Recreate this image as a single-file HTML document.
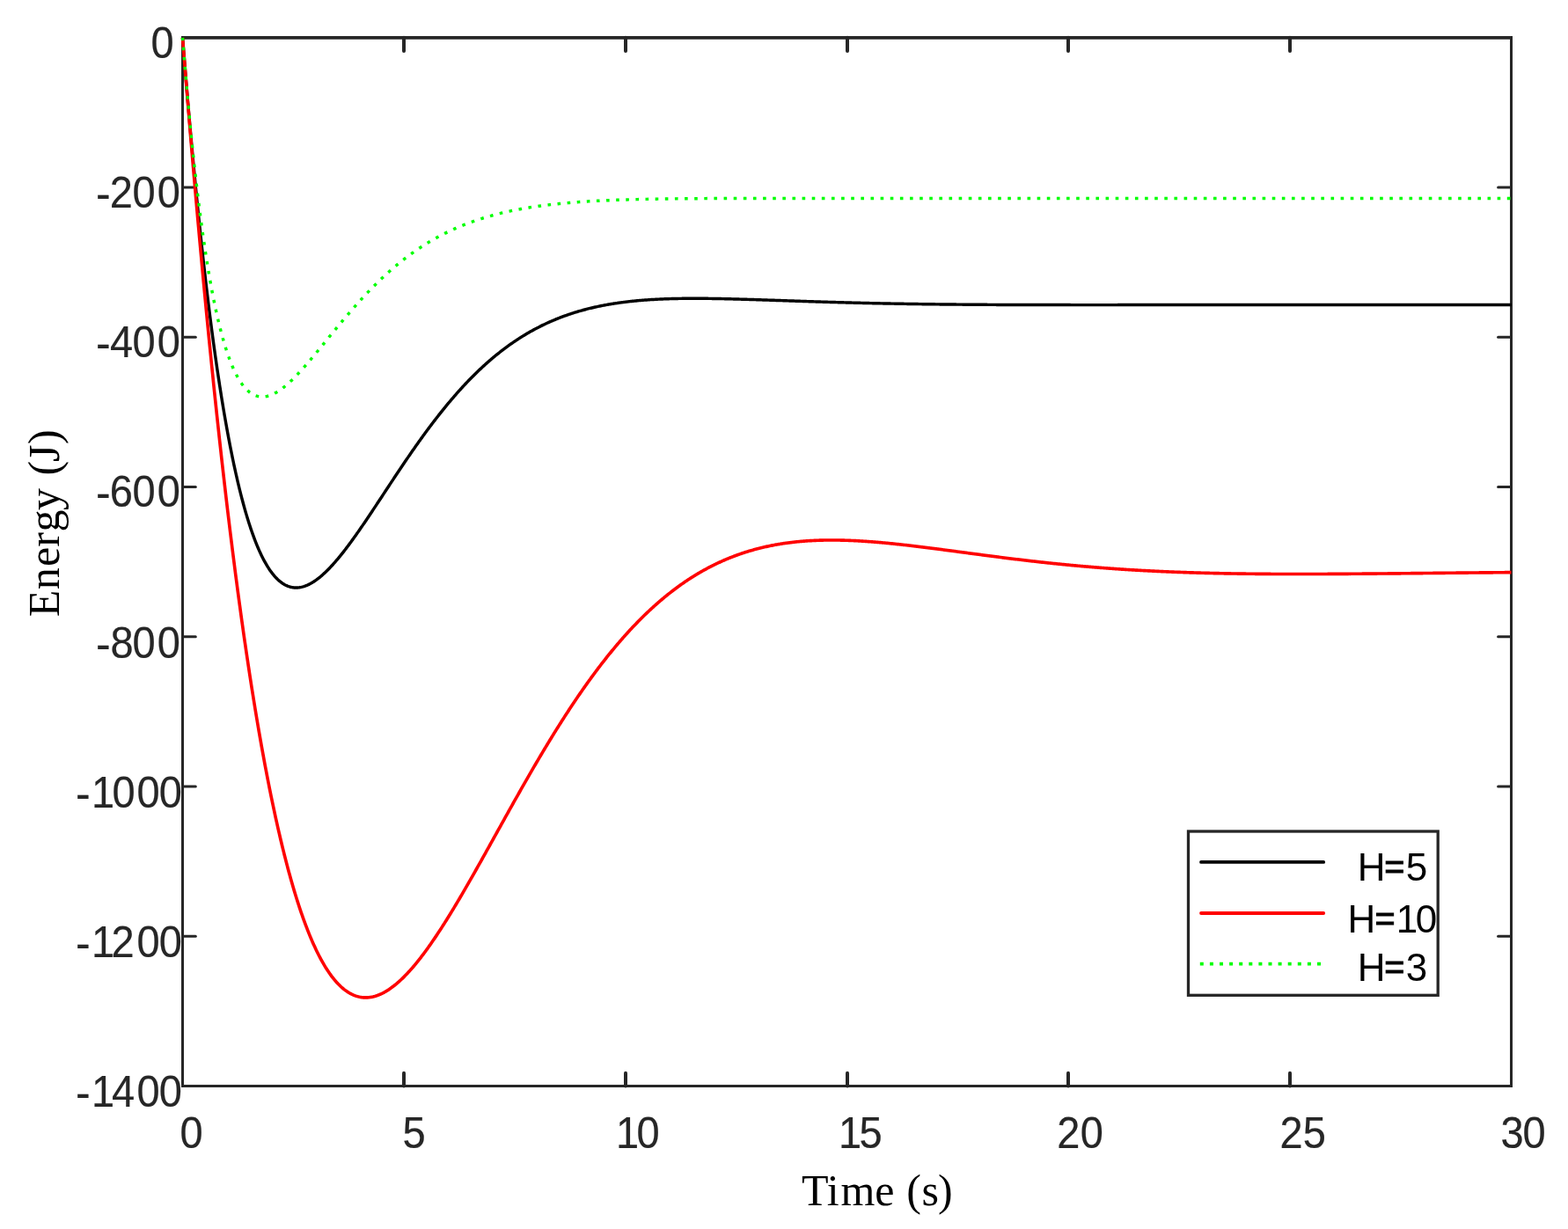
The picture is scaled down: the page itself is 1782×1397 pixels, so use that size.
<!DOCTYPE html>
<html lang="en"><head><meta charset="utf-8"><title>Energy vs Time</title>
<style>html,body{margin:0;padding:0;background:#fff;}body{width:1782px;height:1397px;overflow:hidden;}svg{display:block;}</style>
</head><body>
<svg width="1782" height="1397" viewBox="0 0 1782 1397">
<rect width="1782" height="1397" fill="#ffffff"/>
<g fill="#262626" stroke="none">
<rect x="206" y="41" width="1513" height="3.75"/>
<rect x="206" y="1233" width="1513" height="3"/>
<rect x="206" y="41" width="3" height="1195"/>
<rect x="1716" y="41" width="3" height="1195"/>
</g>
<g stroke="#262626" stroke-width="4" fill="none" stroke-linecap="round">
<line x1="459.00" y1="1234.50" x2="459.00" y2="1219.70"/>
<line x1="459.00" y1="42.85" x2="459.00" y2="58.10"/>
<line x1="711.00" y1="1234.50" x2="711.00" y2="1219.70"/>
<line x1="711.00" y1="42.85" x2="711.00" y2="58.10"/>
<line x1="963.00" y1="1234.50" x2="963.00" y2="1219.70"/>
<line x1="963.00" y1="42.85" x2="963.00" y2="58.10"/>
<line x1="1214.00" y1="1234.50" x2="1214.00" y2="1219.70"/>
<line x1="1214.00" y1="42.85" x2="1214.00" y2="58.10"/>
<line x1="1466.00" y1="1234.50" x2="1466.00" y2="1219.70"/>
<line x1="1466.00" y1="42.85" x2="1466.00" y2="58.10"/>
</g>
<g stroke="#262626" stroke-width="3" fill="none" stroke-linecap="round">
<line x1="207.50" y1="213.09" x2="222.30" y2="213.09"/>
<line x1="1717.50" y1="213.09" x2="1702.60" y2="213.09"/>
<line x1="207.50" y1="383.32" x2="222.30" y2="383.32"/>
<line x1="1717.50" y1="383.32" x2="1702.60" y2="383.32"/>
<line x1="207.50" y1="553.56" x2="222.30" y2="553.56"/>
<line x1="1717.50" y1="553.56" x2="1702.60" y2="553.56"/>
<line x1="207.50" y1="723.79" x2="222.30" y2="723.79"/>
<line x1="1717.50" y1="723.79" x2="1702.60" y2="723.79"/>
<line x1="207.50" y1="894.03" x2="222.30" y2="894.03"/>
<line x1="1717.50" y1="894.03" x2="1702.60" y2="894.03"/>
<line x1="207.50" y1="1064.26" x2="222.30" y2="1064.26"/>
<line x1="1717.50" y1="1064.26" x2="1702.60" y2="1064.26"/>
</g>
<g fill="none" stroke-linejoin="round">
<path d="M207.50 42.85 L208.51 55.53 L209.51 68.04 L210.52 80.37 L211.53 92.52 L212.53 104.50 L213.54 116.31 L214.55 127.95 L215.55 139.42 L216.56 150.72 L217.57 161.86 L218.57 172.83 L219.58 183.64 L220.59 194.28 L221.59 204.77 L222.60 215.09 L223.61 225.26 L224.61 235.28 L225.62 245.13 L226.63 254.84 L227.63 264.39 L228.64 273.80 L229.65 283.05 L230.65 292.16 L231.66 301.12 L232.67 309.93 L233.67 318.60 L234.68 327.13 L235.69 335.52 L236.69 343.77 L237.70 351.88 L238.71 359.86 L239.71 367.70 L240.72 375.40 L241.73 382.98 L242.73 390.42 L243.74 397.73 L244.75 404.91 L245.75 411.97 L246.76 418.90 L247.77 425.70 L248.77 432.38 L249.78 438.94 L250.79 445.38 L251.79 451.70 L252.80 457.90 L253.81 463.98 L254.81 469.95 L255.82 475.80 L256.83 481.54 L257.83 487.16 L258.84 492.68 L259.85 498.08 L260.85 503.38 L261.86 508.57 L262.87 513.65 L263.87 518.62 L264.88 523.50 L265.89 528.27 L266.89 532.94 L267.90 537.50 L268.91 541.97 L269.91 546.34 L270.92 550.62 L271.93 554.79 L272.93 558.87 L273.94 562.86 L274.95 566.76 L275.95 570.56 L276.96 574.28 L277.97 577.90 L278.97 581.44 L279.98 584.88 L280.99 588.25 L281.99 591.52 L283.00 594.72 L284.01 597.83 L285.01 600.85 L286.02 603.80 L287.03 606.66 L288.03 609.45 L289.04 612.16 L290.05 614.79 L291.05 617.35 L292.06 619.83 L293.07 622.24 L294.07 624.57 L295.08 626.83 L296.09 629.02 L297.09 631.14 L298.10 633.19 L299.11 635.17 L300.11 637.08 L301.12 638.93 L302.13 640.71 L303.13 642.42 L304.14 644.07 L305.15 645.66 L306.15 647.19 L307.16 648.65 L308.17 650.06 L309.17 651.40 L310.18 652.69 L311.19 653.91 L312.19 655.08 L313.20 656.20 L314.21 657.25 L315.21 658.26 L316.22 659.21 L317.23 660.10 L318.23 660.95 L319.24 661.74 L320.25 662.48 L321.25 663.17 L322.26 663.81 L323.27 664.40 L324.27 664.95 L325.28 665.44 L326.29 665.89 L327.29 666.30 L328.30 666.66 L329.31 666.98 L330.31 667.25 L331.32 667.48 L332.33 667.67 L333.33 667.81 L334.34 667.92 L335.35 667.98 L336.35 668.01 L337.36 668.00 L338.37 667.95 L339.37 667.86 L340.38 667.73 L341.39 667.57 L342.39 667.37 L343.40 667.14 L344.41 666.87 L345.41 666.57 L346.42 666.24 L347.43 665.87 L348.43 665.47 L349.44 665.05 L350.45 664.58 L351.45 664.09 L352.46 663.57 L353.47 663.02 L354.47 662.45 L355.48 661.84 L356.49 661.21 L357.49 660.55 L358.50 659.86 L359.51 659.15 L360.51 658.41 L361.52 657.65 L362.53 656.86 L363.53 656.05 L364.54 655.21 L365.55 654.36 L366.55 653.48 L367.56 652.57 L368.57 651.65 L369.57 650.71 L370.58 649.74 L371.59 648.76 L372.59 647.76 L373.60 646.73 L374.61 645.69 L375.61 644.63 L376.62 643.55 L377.63 642.46 L378.63 641.35 L379.64 640.22 L380.65 639.07 L381.65 637.91 L382.66 636.74 L383.67 635.54 L384.67 634.34 L385.68 633.12 L386.69 631.89 L387.69 630.64 L388.70 629.38 L389.71 628.11 L390.71 626.82 L391.72 625.53 L392.73 624.22 L393.73 622.90 L394.74 621.57 L395.75 620.23 L396.75 618.88 L397.76 617.52 L398.77 616.15 L399.77 614.77 L400.78 613.38 L401.79 611.98 L402.79 610.58 L403.80 609.16 L404.81 607.74 L405.81 606.32 L406.82 604.88 L407.83 603.44 L408.83 601.99 L409.84 600.54 L410.85 599.07 L411.85 597.61 L412.86 596.14 L413.87 594.66 L414.87 593.18 L415.88 591.69 L416.89 590.20 L417.89 588.71 L418.90 587.21 L419.91 585.71 L420.91 584.20 L421.92 582.69 L422.93 581.18 L423.93 579.67 L424.94 578.15 L425.95 576.63 L426.95 575.11 L427.96 573.59 L428.97 572.06 L429.97 570.54 L430.98 569.01 L431.99 567.48 L432.99 565.96 L434.00 564.43 L435.01 562.90 L436.01 561.37 L437.02 559.84 L438.03 558.31 L439.03 556.78 L440.04 555.25 L441.05 553.72 L442.05 552.20 L443.06 550.67 L444.07 549.15 L445.07 547.62 L446.08 546.10 L447.09 544.58 L448.09 543.06 L449.10 541.55 L450.11 540.03 L451.11 538.52 L452.12 537.01 L453.13 535.51 L454.13 534.00 L455.14 532.50 L456.15 531.00 L457.15 529.51 L458.16 528.02 L459.17 526.53 L460.17 525.04 L461.18 523.56 L462.19 522.08 L463.19 520.61 L464.20 519.14 L465.21 517.67 L466.21 516.21 L467.22 514.75 L468.23 513.30 L469.23 511.85 L470.24 510.41 L471.25 508.97 L472.25 507.53 L473.26 506.10 L474.27 504.68 L475.27 503.26 L476.28 501.84 L477.29 500.43 L478.29 499.03 L479.30 497.63 L480.31 496.24 L481.31 494.85 L482.32 493.46 L483.33 492.09 L484.33 490.72 L485.34 489.35 L486.35 487.99 L487.35 486.64 L488.36 485.29 L489.37 483.95 L490.37 482.61 L491.38 481.28 L492.39 479.96 L493.39 478.64 L494.40 477.33 L495.41 476.03 L496.41 474.73 L497.42 473.44 L498.43 472.15 L499.43 470.87 L500.44 469.60 L501.45 468.34 L502.45 467.08 L503.46 465.83 L504.47 464.58 L505.47 463.34 L506.48 462.11 L507.49 460.89 L508.49 459.67 L509.50 458.46 L510.51 457.25 L511.51 456.06 L512.52 454.87 L513.53 453.68 L514.53 452.51 L515.54 451.34 L516.55 450.18 L517.55 449.02 L518.56 447.87 L519.57 446.73 L520.57 445.60 L521.58 444.47 L522.59 443.36 L523.59 442.24 L524.60 441.14 L525.61 440.04 L526.61 438.95 L527.62 437.87 L528.63 436.79 L529.63 435.72 L530.64 434.66 L531.65 433.61 L532.65 432.56 L533.66 431.52 L534.67 430.49 L535.67 429.47 L536.68 428.45 L537.69 427.44 L538.69 426.44 L539.70 425.44 L540.71 424.45 L541.71 423.47 L542.72 422.50 L543.73 421.53 L544.73 420.57 L545.74 419.62 L546.75 418.67 L547.75 417.74 L548.76 416.81 L549.77 415.88 L550.77 414.97 L551.78 414.06 L552.79 413.16 L553.79 412.26 L554.80 411.37 L555.81 410.49 L556.81 409.62 L557.82 408.76 L558.83 407.90 L559.83 407.04 L560.84 406.20 L561.85 405.36 L562.85 404.53 L563.86 403.71 L564.87 402.89 L565.87 402.08 L566.88 401.28 L567.89 400.48 L568.89 399.69 L569.90 398.91 L570.91 398.13 L571.91 397.37 L572.92 396.60 L573.93 395.85 L574.93 395.10 L575.94 394.36 L576.95 393.63 L577.95 392.90 L578.96 392.18 L579.97 391.46 L580.97 390.75 L581.98 390.05 L582.99 389.36 L583.99 388.67 L585.00 387.99 L586.01 387.31 L587.01 386.64 L588.02 385.98 L589.03 385.32 L590.03 384.67 L591.04 384.03 L592.05 383.39 L593.05 382.76 L594.06 382.14 L595.07 381.52 L596.07 380.91 L597.08 380.30 L598.09 379.70 L599.09 379.11 L600.10 378.52 L601.11 377.94 L602.11 377.36 L603.12 376.79 L604.13 376.23 L605.13 375.67 L606.14 375.12 L607.15 374.57 L608.15 374.03 L609.16 373.50 L610.17 372.97 L611.17 372.44 L612.18 371.93 L613.19 371.41 L614.19 370.91 L615.20 370.41 L616.21 369.91 L617.21 369.42 L618.22 368.94 L619.23 368.46 L620.23 367.98 L621.24 367.52 L622.25 367.05 L623.25 366.60 L624.26 366.14 L625.27 365.70 L626.27 365.26 L627.28 364.82 L628.29 364.39 L629.29 363.96 L630.30 363.54 L631.31 363.12 L632.31 362.71 L633.32 362.31 L634.33 361.90 L635.33 361.51 L636.34 361.12 L637.35 360.73 L638.35 360.35 L639.36 359.97 L640.37 359.60 L641.37 359.23 L642.38 358.87 L643.39 358.51 L644.39 358.15 L645.40 357.80 L646.41 357.46 L647.41 357.12 L648.42 356.78 L649.43 356.45 L650.43 356.12 L651.44 355.80 L652.45 355.48 L653.45 355.17 L654.46 354.86 L655.47 354.55 L656.47 354.25 L657.48 353.95 L658.49 353.66 L659.49 353.37 L660.50 353.08 L661.51 352.80 L662.51 352.52 L663.52 352.25 L664.53 351.98 L665.53 351.71 L666.54 351.45 L667.55 351.19 L668.55 350.94 L669.56 350.69 L670.57 350.44 L671.57 350.20 L672.58 349.96 L673.59 349.72 L674.59 349.49 L675.60 349.26 L676.61 349.03 L677.61 348.81 L678.62 348.59 L679.63 348.38 L680.63 348.16 L681.64 347.96 L682.65 347.75 L683.65 347.55 L684.66 347.35 L685.67 347.15 L686.67 346.96 L687.68 346.77 L688.69 346.59 L689.69 346.40 L690.70 346.22 L691.71 346.05 L692.71 345.87 L693.72 345.70 L694.73 345.54 L695.73 345.37 L696.74 345.21 L697.75 345.05 L698.75 344.89 L699.76 344.74 L700.77 344.59 L701.77 344.44 L702.78 344.30 L703.79 344.15 L704.79 344.01 L705.80 343.88 L706.81 343.74 L707.81 343.61 L708.82 343.48 L709.83 343.35 L710.83 343.23 L711.84 343.11 L712.85 342.99 L713.85 342.87 L714.86 342.75 L715.87 342.64 L716.87 342.53 L717.88 342.42 L718.89 342.32 L719.89 342.22 L720.90 342.11 L721.91 342.02 L722.91 341.92 L723.92 341.82 L724.93 341.73 L725.93 341.64 L726.94 341.55 L727.95 341.47 L728.95 341.38 L729.96 341.30 L730.97 341.22 L731.97 341.14 L732.98 341.07 L733.99 340.99 L734.99 340.92 L736.00 340.85 L737.01 340.78 L738.01 340.72 L739.02 340.65 L740.03 340.59 L741.03 340.53 L742.04 340.47 L743.05 340.41 L744.05 340.35 L745.06 340.30 L746.07 340.24 L747.07 340.19 L748.08 340.14 L749.09 340.10 L750.09 340.05 L751.10 340.00 L752.11 339.96 L753.11 339.92 L754.12 339.88 L755.13 339.84 L756.13 339.80 L757.14 339.76 L758.15 339.73 L759.15 339.70 L760.16 339.66 L761.17 339.63 L762.17 339.60 L763.18 339.58 L764.19 339.55 L765.19 339.52 L766.20 339.50 L767.21 339.48 L768.21 339.45 L769.22 339.43 L770.23 339.41 L771.23 339.40 L772.24 339.38 L773.25 339.36 L774.25 339.35 L775.26 339.34 L776.27 339.32 L777.27 339.31 L778.28 339.30 L779.29 339.29 L780.29 339.28 L781.30 339.27 L782.31 339.27 L783.31 339.26 L784.32 339.26 L785.33 339.25 L786.33 339.25 L787.34 339.25 L788.35 339.25 L789.35 339.25 L790.36 339.25 L791.37 339.25 L792.37 339.25 L793.38 339.26 L794.39 339.26 L795.39 339.27 L796.40 339.27 L797.41 339.28 L798.41 339.28 L799.42 339.29 L800.43 339.30 L801.43 339.31 L802.44 339.32 L803.45 339.33 L804.45 339.34 L805.46 339.35 L806.47 339.37 L807.47 339.38 L808.48 339.39 L809.49 339.41 L810.49 339.42 L811.50 339.44 L812.51 339.46 L813.51 339.47 L814.52 339.49 L815.53 339.51 L816.53 339.53 L817.54 339.54 L818.55 339.56 L819.55 339.58 L820.56 339.60 L821.57 339.63 L822.57 339.65 L823.58 339.67 L824.59 339.69 L825.59 339.71 L826.60 339.74 L827.61 339.76 L828.61 339.78 L829.62 339.81 L830.63 339.83 L831.63 339.86 L832.64 339.88 L833.65 339.91 L834.65 339.94 L835.66 339.96 L836.67 339.99 L837.67 340.02 L838.68 340.04 L839.69 340.07 L840.69 340.10 L841.70 340.13 L842.71 340.16 L843.71 340.18 L844.72 340.21 L845.73 340.24 L846.73 340.27 L847.74 340.30 L848.75 340.33 L849.75 340.36 L850.76 340.39 L851.77 340.42 L852.77 340.46 L853.78 340.49 L854.79 340.52 L855.79 340.55 L856.80 340.58 L857.81 340.61 L858.81 340.65 L859.82 340.68 L860.83 340.71 L861.83 340.74 L862.84 340.77 L863.85 340.81 L864.85 340.84 L865.86 340.87 L866.87 340.91 L867.87 340.94 L868.88 340.97 L869.89 341.01 L870.89 341.04 L871.90 341.07 L872.91 341.11 L873.91 341.14 L874.92 341.17 L875.93 341.21 L876.93 341.24 L877.94 341.28 L878.95 341.31 L879.95 341.34 L880.96 341.38 L881.97 341.41 L882.97 341.45 L883.98 341.48 L884.99 341.51 L885.99 341.55 L887.00 341.58 L888.01 341.62 L889.01 341.65 L890.02 341.69 L891.03 341.72 L892.03 341.75 L893.04 341.79 L894.05 341.82 L895.05 341.86 L896.06 341.89 L897.07 341.92 L898.07 341.96 L899.08 341.99 L900.09 342.03 L901.09 342.06 L902.10 342.09 L903.11 342.13 L904.11 342.16 L905.12 342.20 L906.13 342.23 L907.13 342.26 L908.14 342.30 L909.15 342.33 L910.15 342.36 L911.16 342.40 L912.17 342.43 L913.17 342.46 L914.18 342.50 L915.19 342.53 L916.19 342.56 L917.20 342.60 L918.21 342.63 L919.21 342.66 L920.22 342.69 L921.23 342.73 L922.23 342.76 L923.24 342.79 L924.25 342.82 L925.25 342.85 L926.26 342.89 L927.27 342.92 L928.27 342.95 L929.28 342.98 L930.29 343.01 L931.29 343.04 L932.30 343.08 L933.31 343.11 L934.31 343.14 L935.32 343.17 L936.33 343.20 L937.33 343.23 L938.34 343.26 L939.35 343.29 L940.35 343.32 L941.36 343.35 L942.37 343.38 L943.37 343.41 L944.38 343.44 L945.39 343.47 L946.39 343.50 L947.40 343.53 L948.41 343.56 L949.41 343.59 L950.42 343.62 L951.43 343.64 L952.43 343.67 L953.44 343.70 L954.45 343.73 L955.45 343.76 L956.46 343.79 L957.47 343.81 L958.47 343.84 L959.48 343.87 L960.49 343.90 L961.49 343.92 L962.50 343.95 L963.51 343.98 L964.51 344.00 L965.52 344.03 L966.53 344.06 L967.53 344.08 L968.54 344.11 L969.55 344.13 L970.55 344.16 L971.56 344.19 L972.57 344.21 L973.57 344.24 L974.58 344.26 L975.59 344.29 L976.59 344.31 L977.60 344.34 L978.61 344.36 L979.61 344.38 L980.62 344.41 L981.63 344.43 L982.63 344.46 L983.64 344.48 L984.65 344.50 L985.65 344.53 L986.66 344.55 L987.67 344.57 L988.67 344.60 L989.68 344.62 L990.69 344.64 L991.69 344.66 L992.70 344.69 L993.71 344.71 L994.71 344.73 L995.72 344.75 L996.73 344.77 L997.73 344.79 L998.74 344.82 L999.75 344.84 L1000.75 344.86 L1001.76 344.88 L1002.77 344.90 L1003.77 344.92 L1004.78 344.94 L1005.79 344.96 L1006.79 344.98 L1007.80 345.00 L1008.81 345.02 L1009.81 345.04 L1010.82 345.06 L1011.83 345.08 L1012.83 345.10 L1013.84 345.11 L1014.85 345.13 L1015.85 345.15 L1016.86 345.17 L1017.87 345.19 L1018.87 345.21 L1019.88 345.22 L1020.89 345.24 L1021.89 345.26 L1022.90 345.28 L1023.91 345.29 L1024.91 345.31 L1025.92 345.33 L1026.93 345.34 L1027.93 345.36 L1028.94 345.38 L1029.95 345.39 L1030.95 345.41 L1031.96 345.43 L1032.97 345.44 L1033.97 345.46 L1034.98 345.47 L1035.99 345.49 L1036.99 345.50 L1038.00 345.52 L1039.01 345.53 L1040.01 345.55 L1041.02 345.56 L1042.03 345.58 L1043.03 345.59 L1044.04 345.61 L1045.05 345.62 L1046.05 345.64 L1047.06 345.65 L1048.07 345.66 L1049.07 345.68 L1050.08 345.69 L1051.09 345.70 L1052.09 345.72 L1053.10 345.73 L1054.11 345.74 L1055.11 345.76 L1056.12 345.77 L1057.13 345.78 L1058.13 345.79 L1059.14 345.81 L1060.15 345.82 L1061.15 345.83 L1062.16 345.84 L1063.17 345.85 L1064.17 345.87 L1065.18 345.88 L1066.19 345.89 L1067.19 345.90 L1068.20 345.91 L1069.21 345.92 L1070.21 345.93 L1071.22 345.94 L1072.23 345.95 L1073.23 345.96 L1074.24 345.97 L1075.25 345.99 L1076.25 346.00 L1077.26 346.01 L1078.27 346.02 L1079.27 346.03 L1080.28 346.03 L1081.29 346.04 L1082.29 346.05 L1083.30 346.06 L1084.31 346.07 L1085.31 346.08 L1086.32 346.09 L1087.33 346.10 L1088.33 346.11 L1089.34 346.12 L1090.35 346.13 L1091.35 346.13 L1092.36 346.14 L1093.37 346.15 L1094.37 346.16 L1095.38 346.17 L1096.39 346.18 L1097.39 346.18 L1098.40 346.19 L1099.41 346.20 L1100.41 346.21 L1101.42 346.21 L1102.43 346.22 L1103.43 346.23 L1104.44 346.24 L1105.45 346.24 L1106.45 346.25 L1107.46 346.26 L1108.47 346.26 L1109.47 346.27 L1110.48 346.28 L1111.49 346.28 L1112.49 346.29 L1113.50 346.30 L1114.51 346.30 L1115.51 346.31 L1116.52 346.31 L1117.53 346.32 L1118.53 346.33 L1119.54 346.33 L1120.55 346.34 L1121.55 346.34 L1122.56 346.35 L1123.57 346.35 L1124.57 346.36 L1125.58 346.36 L1126.59 346.37 L1127.59 346.38 L1128.60 346.38 L1129.61 346.39 L1130.61 346.39 L1131.62 346.40 L1132.63 346.40 L1133.63 346.40 L1134.64 346.41 L1135.65 346.41 L1136.65 346.42 L1137.66 346.42 L1138.67 346.43 L1139.67 346.43 L1140.68 346.44 L1141.69 346.44 L1142.69 346.44 L1143.70 346.45 L1144.71 346.45 L1145.71 346.46 L1146.72 346.46 L1147.73 346.46 L1148.73 346.47 L1149.74 346.47 L1150.75 346.47 L1151.75 346.48 L1152.76 346.48 L1153.77 346.48 L1154.77 346.49 L1155.78 346.49 L1156.79 346.49 L1157.79 346.50 L1158.80 346.50 L1159.81 346.50 L1160.81 346.51 L1161.82 346.51 L1162.83 346.51 L1163.83 346.51 L1164.84 346.52 L1165.85 346.52 L1166.85 346.52 L1167.86 346.52 L1168.87 346.53 L1169.87 346.53 L1170.88 346.53 L1171.89 346.53 L1172.89 346.54 L1173.90 346.54 L1174.91 346.54 L1175.91 346.54 L1176.92 346.55 L1177.93 346.55 L1178.93 346.55 L1179.94 346.55 L1180.95 346.55 L1181.95 346.55 L1182.96 346.56 L1183.97 346.56 L1184.97 346.56 L1185.98 346.56 L1186.99 346.56 L1187.99 346.57 L1189.00 346.57 L1190.01 346.57 L1191.01 346.57 L1192.02 346.57 L1193.03 346.57 L1194.03 346.57 L1195.04 346.58 L1196.05 346.58 L1197.05 346.58 L1198.06 346.58 L1199.07 346.58 L1200.07 346.58 L1201.08 346.58 L1202.09 346.58 L1203.09 346.58 L1204.10 346.59 L1205.11 346.59 L1206.11 346.59 L1207.12 346.59 L1208.13 346.59 L1209.13 346.59 L1210.14 346.59 L1211.15 346.59 L1212.15 346.59 L1213.16 346.59 L1214.17 346.59 L1215.17 346.59 L1216.18 346.59 L1217.19 346.60 L1218.19 346.60 L1219.20 346.60 L1220.21 346.60 L1221.21 346.60 L1222.22 346.60 L1223.23 346.60 L1224.23 346.60 L1225.24 346.60 L1226.25 346.60 L1227.25 346.60 L1228.26 346.60 L1229.27 346.60 L1230.27 346.60 L1231.28 346.60 L1232.29 346.60 L1233.29 346.60 L1234.30 346.60 L1235.31 346.60 L1236.31 346.60 L1237.32 346.60 L1238.33 346.60 L1239.33 346.60 L1240.34 346.60 L1241.35 346.60 L1242.35 346.60 L1243.36 346.60 L1244.37 346.60 L1245.37 346.60 L1246.38 346.60 L1247.39 346.60 L1248.39 346.60 L1249.40 346.60 L1250.41 346.60 L1251.41 346.60 L1252.42 346.60 L1253.43 346.60 L1254.43 346.60 L1255.44 346.60 L1256.45 346.60 L1257.45 346.60 L1258.46 346.60 L1259.47 346.60 L1260.47 346.60 L1261.48 346.60 L1262.49 346.60 L1263.49 346.60 L1264.50 346.60 L1265.51 346.60 L1266.51 346.60 L1267.52 346.60 L1268.53 346.60 L1269.53 346.60 L1270.54 346.59 L1271.55 346.59 L1272.55 346.59 L1273.56 346.59 L1274.57 346.59 L1275.57 346.59 L1276.58 346.59 L1277.59 346.59 L1278.59 346.59 L1279.60 346.59 L1280.61 346.59 L1281.61 346.59 L1282.62 346.59 L1283.63 346.59 L1284.63 346.59 L1285.64 346.59 L1286.65 346.59 L1287.65 346.59 L1288.66 346.59 L1289.67 346.58 L1290.67 346.58 L1291.68 346.58 L1292.69 346.58 L1293.69 346.58 L1294.70 346.58 L1295.71 346.58 L1296.71 346.58 L1297.72 346.58 L1298.73 346.58 L1299.73 346.58 L1300.74 346.58 L1301.75 346.58 L1302.75 346.58 L1303.76 346.58 L1304.77 346.57 L1305.77 346.57 L1306.78 346.57 L1307.79 346.57 L1308.79 346.57 L1309.80 346.57 L1310.81 346.57 L1311.81 346.57 L1312.82 346.57 L1313.83 346.57 L1314.83 346.57 L1315.84 346.57 L1316.85 346.57 L1317.85 346.57 L1318.86 346.56 L1319.87 346.56 L1320.87 346.56 L1321.88 346.56 L1322.89 346.56 L1323.89 346.56 L1324.90 346.56 L1325.91 346.56 L1326.91 346.56 L1327.92 346.56 L1328.93 346.56 L1329.93 346.56 L1330.94 346.56 L1331.95 346.56 L1332.95 346.55 L1333.96 346.55 L1334.97 346.55 L1335.97 346.55 L1336.98 346.55 L1337.99 346.55 L1338.99 346.55 L1340.00 346.55 L1341.01 346.55 L1342.01 346.55 L1343.02 346.55 L1344.03 346.55 L1345.03 346.55 L1346.04 346.54 L1347.05 346.54 L1348.05 346.54 L1349.06 346.54 L1350.07 346.54 L1351.07 346.54 L1352.08 346.54 L1353.09 346.54 L1354.09 346.54 L1355.10 346.54 L1356.11 346.54 L1357.11 346.54 L1358.12 346.54 L1359.13 346.53 L1360.13 346.53 L1361.14 346.53 L1362.15 346.53 L1363.15 346.53 L1364.16 346.53 L1365.17 346.53 L1366.17 346.53 L1367.18 346.53 L1368.19 346.53 L1369.19 346.53 L1370.20 346.53 L1371.21 346.53 L1372.21 346.52 L1373.22 346.52 L1374.23 346.52 L1375.23 346.52 L1376.24 346.52 L1377.25 346.52 L1378.25 346.52 L1379.26 346.52 L1380.27 346.52 L1381.27 346.52 L1382.28 346.52 L1383.29 346.52 L1384.29 346.52 L1385.30 346.52 L1386.31 346.51 L1387.31 346.51 L1388.32 346.51 L1389.33 346.51 L1390.33 346.51 L1391.34 346.51 L1392.35 346.51 L1393.35 346.51 L1394.36 346.51 L1395.37 346.51 L1396.37 346.51 L1397.38 346.51 L1398.39 346.51 L1399.39 346.51 L1400.40 346.51 L1401.41 346.50 L1402.41 346.50 L1403.42 346.50 L1404.43 346.50 L1405.43 346.50 L1406.44 346.50 L1407.45 346.50 L1408.45 346.50 L1409.46 346.50 L1410.47 346.50 L1411.47 346.50 L1412.48 346.50 L1413.49 346.50 L1414.49 346.50 L1415.50 346.50 L1416.51 346.50 L1417.51 346.49 L1418.52 346.49 L1419.53 346.49 L1420.53 346.49 L1421.54 346.49 L1422.55 346.49 L1423.55 346.49 L1424.56 346.49 L1425.57 346.49 L1426.57 346.49 L1427.58 346.49 L1428.59 346.49 L1429.59 346.49 L1430.60 346.49 L1431.61 346.49 L1432.61 346.49 L1433.62 346.49 L1434.63 346.49 L1435.63 346.48 L1436.64 346.48 L1437.65 346.48 L1438.65 346.48 L1439.66 346.48 L1440.67 346.48 L1441.67 346.48 L1442.68 346.48 L1443.69 346.48 L1444.69 346.48 L1445.70 346.48 L1446.71 346.48 L1447.71 346.48 L1448.72 346.48 L1449.73 346.48 L1450.73 346.48 L1451.74 346.48 L1452.75 346.48 L1453.75 346.48 L1454.76 346.48 L1455.77 346.48 L1456.77 346.47 L1457.78 346.47 L1458.79 346.47 L1459.79 346.47 L1460.80 346.47 L1461.81 346.47 L1462.81 346.47 L1463.82 346.47 L1464.83 346.47 L1465.83 346.47 L1466.84 346.47 L1467.85 346.47 L1468.85 346.47 L1469.86 346.47 L1470.87 346.47 L1471.87 346.47 L1472.88 346.47 L1473.89 346.47 L1474.89 346.47 L1475.90 346.47 L1476.91 346.47 L1477.91 346.47 L1478.92 346.47 L1479.93 346.47 L1480.93 346.46 L1481.94 346.46 L1482.95 346.46 L1483.95 346.46 L1484.96 346.46 L1485.97 346.46 L1486.97 346.46 L1487.98 346.46 L1488.99 346.46 L1489.99 346.46 L1491.00 346.46 L1492.01 346.46 L1493.01 346.46 L1494.02 346.46 L1495.03 346.46 L1496.03 346.46 L1497.04 346.46 L1498.05 346.46 L1499.05 346.46 L1500.06 346.46 L1501.07 346.46 L1502.07 346.46 L1503.08 346.46 L1504.09 346.46 L1505.09 346.46 L1506.10 346.46 L1507.11 346.46 L1508.11 346.46 L1509.12 346.46 L1510.13 346.46 L1511.13 346.46 L1512.14 346.45 L1513.15 346.45 L1514.15 346.45 L1515.16 346.45 L1516.17 346.45 L1517.17 346.45 L1518.18 346.45 L1519.19 346.45 L1520.19 346.45 L1521.20 346.45 L1522.21 346.45 L1523.21 346.45 L1524.22 346.45 L1525.23 346.45 L1526.23 346.45 L1527.24 346.45 L1528.25 346.45 L1529.25 346.45 L1530.26 346.45 L1531.27 346.45 L1532.27 346.45 L1533.28 346.45 L1534.29 346.45 L1535.29 346.45 L1536.30 346.45 L1537.31 346.45 L1538.31 346.45 L1539.32 346.45 L1540.33 346.45 L1541.33 346.45 L1542.34 346.45 L1543.35 346.45 L1544.35 346.45 L1545.36 346.45 L1546.37 346.45 L1547.37 346.45 L1548.38 346.45 L1549.39 346.45 L1550.39 346.45 L1551.40 346.45 L1552.41 346.45 L1553.41 346.45 L1554.42 346.45 L1555.43 346.45 L1556.43 346.45 L1557.44 346.45 L1558.45 346.45 L1559.45 346.44 L1560.46 346.44 L1561.47 346.44 L1562.47 346.44 L1563.48 346.44 L1564.49 346.44 L1565.49 346.44 L1566.50 346.44 L1567.51 346.44 L1568.51 346.44 L1569.52 346.44 L1570.53 346.44 L1571.53 346.44 L1572.54 346.44 L1573.55 346.44 L1574.55 346.44 L1575.56 346.44 L1576.57 346.44 L1577.57 346.44 L1578.58 346.44 L1579.59 346.44 L1580.59 346.44 L1581.60 346.44 L1582.61 346.44 L1583.61 346.44 L1584.62 346.44 L1585.63 346.44 L1586.63 346.44 L1587.64 346.44 L1588.65 346.44 L1589.65 346.44 L1590.66 346.44 L1591.67 346.44 L1592.67 346.44 L1593.68 346.44 L1594.69 346.44 L1595.69 346.44 L1596.70 346.44 L1597.71 346.44 L1598.71 346.44 L1599.72 346.44 L1600.73 346.44 L1601.73 346.44 L1602.74 346.44 L1603.75 346.44 L1604.75 346.44 L1605.76 346.44 L1606.77 346.44 L1607.77 346.44 L1608.78 346.44 L1609.79 346.44 L1610.79 346.44 L1611.80 346.44 L1612.81 346.44 L1613.81 346.44 L1614.82 346.44 L1615.83 346.44 L1616.83 346.44 L1617.84 346.44 L1618.85 346.44 L1619.85 346.44 L1620.86 346.44 L1621.87 346.44 L1622.87 346.44 L1623.88 346.44 L1624.89 346.44 L1625.89 346.44 L1626.90 346.44 L1627.91 346.44 L1628.91 346.44 L1629.92 346.44 L1630.93 346.44 L1631.93 346.44 L1632.94 346.44 L1633.95 346.44 L1634.95 346.44 L1635.96 346.44 L1636.97 346.44 L1637.97 346.44 L1638.98 346.44 L1639.99 346.44 L1640.99 346.44 L1642.00 346.44 L1643.01 346.44 L1644.01 346.44 L1645.02 346.44 L1646.03 346.44 L1647.03 346.44 L1648.04 346.44 L1649.05 346.44 L1650.05 346.44 L1651.06 346.44 L1652.07 346.44 L1653.07 346.44 L1654.08 346.44 L1655.09 346.44 L1656.09 346.44 L1657.10 346.44 L1658.11 346.44 L1659.11 346.44 L1660.12 346.44 L1661.13 346.44 L1662.13 346.44 L1663.14 346.44 L1664.15 346.44 L1665.15 346.44 L1666.16 346.44 L1667.17 346.44 L1668.17 346.44 L1669.18 346.44 L1670.19 346.44 L1671.19 346.44 L1672.20 346.44 L1673.21 346.44 L1674.21 346.44 L1675.22 346.44 L1676.23 346.44 L1677.23 346.44 L1678.24 346.44 L1679.25 346.44 L1680.25 346.44 L1681.26 346.44 L1682.27 346.44 L1683.27 346.44 L1684.28 346.44 L1685.29 346.44 L1686.29 346.44 L1687.30 346.44 L1688.31 346.44 L1689.31 346.44 L1690.32 346.44 L1691.33 346.44 L1692.33 346.44 L1693.34 346.44 L1694.35 346.44 L1695.35 346.44 L1696.36 346.44 L1697.37 346.44 L1698.37 346.44 L1699.38 346.44 L1700.39 346.44 L1701.39 346.44 L1702.40 346.44 L1703.41 346.44 L1704.41 346.44 L1705.42 346.44 L1706.43 346.44 L1707.43 346.44 L1708.44 346.44 L1709.45 346.44 L1710.45 346.44 L1711.46 346.44 L1712.47 346.44 L1713.47 346.44 L1714.48 346.44 L1715.49 346.44 L1716.49 346.44 L1717.50 346.44" stroke="#000000" stroke-width="3.45"/>
<path d="M207.50 42.85 L208.51 55.59 L209.51 68.23 L210.52 80.79 L211.53 93.25 L212.53 105.63 L213.54 117.92 L214.55 130.12 L215.55 142.22 L216.56 154.25 L217.57 166.18 L218.57 178.02 L219.58 189.78 L220.59 201.44 L221.59 213.02 L222.60 224.51 L223.61 235.92 L224.61 247.23 L225.62 258.46 L226.63 269.60 L227.63 280.66 L228.64 291.63 L229.65 302.51 L230.65 313.30 L231.66 324.01 L232.67 334.64 L233.67 345.17 L234.68 355.63 L235.69 365.99 L236.69 376.28 L237.70 386.47 L238.71 396.59 L239.71 406.61 L240.72 416.56 L241.73 426.42 L242.73 436.19 L243.74 445.89 L244.75 455.50 L245.75 465.02 L246.76 474.47 L247.77 483.83 L248.77 493.11 L249.78 502.31 L250.79 511.42 L251.79 520.46 L252.80 529.41 L253.81 538.28 L254.81 547.07 L255.82 555.78 L256.83 564.42 L257.83 572.97 L258.84 581.44 L259.85 589.83 L260.85 598.14 L261.86 606.38 L262.87 614.54 L263.87 622.61 L264.88 630.61 L265.89 638.54 L266.89 646.38 L267.90 654.15 L268.91 661.84 L269.91 669.46 L270.92 677.00 L271.93 684.46 L272.93 691.85 L273.94 699.16 L274.95 706.40 L275.95 713.56 L276.96 720.65 L277.97 727.67 L278.97 734.61 L279.98 741.48 L280.99 748.27 L281.99 754.99 L283.00 761.64 L284.01 768.22 L285.01 774.72 L286.02 781.16 L287.03 787.52 L288.03 793.81 L289.04 800.04 L290.05 806.19 L291.05 812.27 L292.06 818.28 L293.07 824.22 L294.07 830.10 L295.08 835.90 L296.09 841.64 L297.09 847.31 L298.10 852.91 L299.11 858.44 L300.11 863.91 L301.12 869.31 L302.13 874.64 L303.13 879.91 L304.14 885.12 L305.15 890.25 L306.15 895.33 L307.16 900.33 L308.17 905.28 L309.17 910.16 L310.18 914.97 L311.19 919.73 L312.19 924.42 L313.20 929.04 L314.21 933.61 L315.21 938.11 L316.22 942.55 L317.23 946.93 L318.23 951.25 L319.24 955.51 L320.25 959.71 L321.25 963.85 L322.26 967.93 L323.27 971.95 L324.27 975.91 L325.28 979.81 L326.29 983.66 L327.29 987.45 L328.30 991.18 L329.31 994.85 L330.31 998.46 L331.32 1002.02 L332.33 1005.53 L333.33 1008.97 L334.34 1012.37 L335.35 1015.70 L336.35 1018.99 L337.36 1022.21 L338.37 1025.39 L339.37 1028.51 L340.38 1031.57 L341.39 1034.59 L342.39 1037.55 L343.40 1040.46 L344.41 1043.31 L345.41 1046.12 L346.42 1048.87 L347.43 1051.58 L348.43 1054.23 L349.44 1056.83 L350.45 1059.38 L351.45 1061.88 L352.46 1064.34 L353.47 1066.74 L354.47 1069.10 L355.48 1071.40 L356.49 1073.66 L357.49 1075.87 L358.50 1078.04 L359.51 1080.16 L360.51 1082.23 L361.52 1084.25 L362.53 1086.23 L363.53 1088.16 L364.54 1090.05 L365.55 1091.90 L366.55 1093.69 L367.56 1095.45 L368.57 1097.16 L369.57 1098.83 L370.58 1100.45 L371.59 1102.03 L372.59 1103.57 L373.60 1105.06 L374.61 1106.52 L375.61 1107.93 L376.62 1109.30 L377.63 1110.63 L378.63 1111.92 L379.64 1113.17 L380.65 1114.38 L381.65 1115.55 L382.66 1116.68 L383.67 1117.77 L384.67 1118.82 L385.68 1119.83 L386.69 1120.81 L387.69 1121.75 L388.70 1122.65 L389.71 1123.51 L390.71 1124.34 L391.72 1125.13 L392.73 1125.88 L393.73 1126.60 L394.74 1127.28 L395.75 1127.93 L396.75 1128.54 L397.76 1129.12 L398.77 1129.66 L399.77 1130.17 L400.78 1130.64 L401.79 1131.09 L402.79 1131.49 L403.80 1131.87 L404.81 1132.21 L405.81 1132.52 L406.82 1132.80 L407.83 1133.05 L408.83 1133.27 L409.84 1133.45 L410.85 1133.61 L411.85 1133.73 L412.86 1133.82 L413.87 1133.89 L414.87 1133.92 L415.88 1133.93 L416.89 1133.90 L417.89 1133.85 L418.90 1133.77 L419.91 1133.66 L420.91 1133.52 L421.92 1133.36 L422.93 1133.17 L423.93 1132.95 L424.94 1132.70 L425.95 1132.43 L426.95 1132.13 L427.96 1131.81 L428.97 1131.46 L429.97 1131.08 L430.98 1130.68 L431.99 1130.25 L432.99 1129.80 L434.00 1129.33 L435.01 1128.83 L436.01 1128.31 L437.02 1127.77 L438.03 1127.20 L439.03 1126.60 L440.04 1125.99 L441.05 1125.35 L442.05 1124.70 L443.06 1124.01 L444.07 1123.31 L445.07 1122.59 L446.08 1121.84 L447.09 1121.08 L448.09 1120.29 L449.10 1119.48 L450.11 1118.66 L451.11 1117.81 L452.12 1116.94 L453.13 1116.06 L454.13 1115.15 L455.14 1114.23 L456.15 1113.28 L457.15 1112.32 L458.16 1111.34 L459.17 1110.35 L460.17 1109.33 L461.18 1108.30 L462.19 1107.25 L463.19 1106.18 L464.20 1105.10 L465.21 1104.00 L466.21 1102.88 L467.22 1101.75 L468.23 1100.60 L469.23 1099.44 L470.24 1098.26 L471.25 1097.06 L472.25 1095.85 L473.26 1094.63 L474.27 1093.39 L475.27 1092.13 L476.28 1090.87 L477.29 1089.58 L478.29 1088.29 L479.30 1086.98 L480.31 1085.66 L481.31 1084.32 L482.32 1082.97 L483.33 1081.61 L484.33 1080.24 L485.34 1078.86 L486.35 1077.46 L487.35 1076.05 L488.36 1074.63 L489.37 1073.20 L490.37 1071.75 L491.38 1070.30 L492.39 1068.83 L493.39 1067.36 L494.40 1065.87 L495.41 1064.37 L496.41 1062.87 L497.42 1061.35 L498.43 1059.82 L499.43 1058.29 L500.44 1056.74 L501.45 1055.19 L502.45 1053.63 L503.46 1052.05 L504.47 1050.47 L505.47 1048.89 L506.48 1047.29 L507.49 1045.68 L508.49 1044.07 L509.50 1042.45 L510.51 1040.82 L511.51 1039.19 L512.52 1037.54 L513.53 1035.89 L514.53 1034.24 L515.54 1032.57 L516.55 1030.90 L517.55 1029.23 L518.56 1027.54 L519.57 1025.85 L520.57 1024.16 L521.58 1022.46 L522.59 1020.75 L523.59 1019.04 L524.60 1017.33 L525.61 1015.61 L526.61 1013.88 L527.62 1012.15 L528.63 1010.41 L529.63 1008.67 L530.64 1006.93 L531.65 1005.18 L532.65 1003.43 L533.66 1001.67 L534.67 999.91 L535.67 998.14 L536.68 996.38 L537.69 994.61 L538.69 992.83 L539.70 991.05 L540.71 989.27 L541.71 987.49 L542.72 985.71 L543.73 983.92 L544.73 982.13 L545.74 980.34 L546.75 978.54 L547.75 976.74 L548.76 974.95 L549.77 973.14 L550.77 971.34 L551.78 969.54 L552.79 967.73 L553.79 965.93 L554.80 964.12 L555.81 962.31 L556.81 960.50 L557.82 958.69 L558.83 956.88 L559.83 955.07 L560.84 953.26 L561.85 951.45 L562.85 949.64 L563.86 947.82 L564.87 946.01 L565.87 944.20 L566.88 942.39 L567.89 940.58 L568.89 938.76 L569.90 936.95 L570.91 935.14 L571.91 933.34 L572.92 931.53 L573.93 929.72 L574.93 927.91 L575.94 926.11 L576.95 924.30 L577.95 922.50 L578.96 920.70 L579.97 918.90 L580.97 917.10 L581.98 915.31 L582.99 913.51 L583.99 911.72 L585.00 909.93 L586.01 908.14 L587.01 906.35 L588.02 904.57 L589.03 902.79 L590.03 901.01 L591.04 899.23 L592.05 897.46 L593.05 895.68 L594.06 893.92 L595.07 892.15 L596.07 890.39 L597.08 888.63 L598.09 886.87 L599.09 885.11 L600.10 883.36 L601.11 881.62 L602.11 879.87 L603.12 878.13 L604.13 876.39 L605.13 874.66 L606.14 872.93 L607.15 871.20 L608.15 869.48 L609.16 867.76 L610.17 866.04 L611.17 864.33 L612.18 862.63 L613.19 860.92 L614.19 859.22 L615.20 857.53 L616.21 855.84 L617.21 854.15 L618.22 852.47 L619.23 850.79 L620.23 849.12 L621.24 847.45 L622.25 845.79 L623.25 844.13 L624.26 842.47 L625.27 840.82 L626.27 839.18 L627.28 837.54 L628.29 835.90 L629.29 834.27 L630.30 832.65 L631.31 831.03 L632.31 829.41 L633.32 827.80 L634.33 826.20 L635.33 824.60 L636.34 823.01 L637.35 821.42 L638.35 819.83 L639.36 818.26 L640.37 816.68 L641.37 815.12 L642.38 813.55 L643.39 812.00 L644.39 810.45 L645.40 808.90 L646.41 807.37 L647.41 805.83 L648.42 804.30 L649.43 802.78 L650.43 801.27 L651.44 799.76 L652.45 798.25 L653.45 796.75 L654.46 795.26 L655.47 793.78 L656.47 792.30 L657.48 790.82 L658.49 789.35 L659.49 787.89 L660.50 786.44 L661.51 784.99 L662.51 783.54 L663.52 782.11 L664.53 780.67 L665.53 779.25 L666.54 777.83 L667.55 776.42 L668.55 775.01 L669.56 773.61 L670.57 772.22 L671.57 770.83 L672.58 769.45 L673.59 768.08 L674.59 766.71 L675.60 765.35 L676.61 764.00 L677.61 762.65 L678.62 761.31 L679.63 759.97 L680.63 758.64 L681.64 757.32 L682.65 756.01 L683.65 754.70 L684.66 753.40 L685.67 752.10 L686.67 750.81 L687.68 749.53 L688.69 748.25 L689.69 746.98 L690.70 745.72 L691.71 744.47 L692.71 743.22 L693.72 741.98 L694.73 740.74 L695.73 739.51 L696.74 738.29 L697.75 737.07 L698.75 735.87 L699.76 734.66 L700.77 733.47 L701.77 732.28 L702.78 731.10 L703.79 729.93 L704.79 728.76 L705.80 727.60 L706.81 726.44 L707.81 725.29 L708.82 724.15 L709.83 723.02 L710.83 721.89 L711.84 720.77 L712.85 719.66 L713.85 718.55 L714.86 717.45 L715.87 716.36 L716.87 715.27 L717.88 714.19 L718.89 713.12 L719.89 712.05 L720.90 710.99 L721.91 709.94 L722.91 708.90 L723.92 707.86 L724.93 706.82 L725.93 705.80 L726.94 704.78 L727.95 703.77 L728.95 702.76 L729.96 701.76 L730.97 700.77 L731.97 699.79 L732.98 698.81 L733.99 697.84 L734.99 696.87 L736.00 695.91 L737.01 694.96 L738.01 694.02 L739.02 693.08 L740.03 692.15 L741.03 691.22 L742.04 690.30 L743.05 689.39 L744.05 688.48 L745.06 687.59 L746.07 686.69 L747.07 685.81 L748.08 684.93 L749.09 684.06 L750.09 683.19 L751.10 682.33 L752.11 681.48 L753.11 680.63 L754.12 679.79 L755.13 678.96 L756.13 678.13 L757.14 677.31 L758.15 676.50 L759.15 675.69 L760.16 674.89 L761.17 674.10 L762.17 673.31 L763.18 672.52 L764.19 671.75 L765.19 670.98 L766.20 670.22 L767.21 669.46 L768.21 668.71 L769.22 667.96 L770.23 667.23 L771.23 666.50 L772.24 665.77 L773.25 665.05 L774.25 664.34 L775.26 663.63 L776.27 662.93 L777.27 662.23 L778.28 661.55 L779.29 660.86 L780.29 660.19 L781.30 659.52 L782.31 658.85 L783.31 658.19 L784.32 657.54 L785.33 656.89 L786.33 656.25 L787.34 655.62 L788.35 654.99 L789.35 654.37 L790.36 653.75 L791.37 653.14 L792.37 652.53 L793.38 651.93 L794.39 651.34 L795.39 650.75 L796.40 650.17 L797.41 649.59 L798.41 649.02 L799.42 648.46 L800.43 647.90 L801.43 647.34 L802.44 646.79 L803.45 646.25 L804.45 645.71 L805.46 645.18 L806.47 644.66 L807.47 644.14 L808.48 643.62 L809.49 643.11 L810.49 642.61 L811.50 642.11 L812.51 641.61 L813.51 641.13 L814.52 640.64 L815.53 640.16 L816.53 639.69 L817.54 639.23 L818.55 638.76 L819.55 638.31 L820.56 637.86 L821.57 637.41 L822.57 636.97 L823.58 636.53 L824.59 636.10 L825.59 635.67 L826.60 635.25 L827.61 634.84 L828.61 634.43 L829.62 634.02 L830.63 633.62 L831.63 633.22 L832.64 632.83 L833.65 632.45 L834.65 632.07 L835.66 631.69 L836.67 631.32 L837.67 630.95 L838.68 630.59 L839.69 630.23 L840.69 629.88 L841.70 629.53 L842.71 629.19 L843.71 628.85 L844.72 628.51 L845.73 628.18 L846.73 627.86 L847.74 627.54 L848.75 627.22 L849.75 626.91 L850.76 626.60 L851.77 626.30 L852.77 626.00 L853.78 625.71 L854.79 625.42 L855.79 625.13 L856.80 624.85 L857.81 624.57 L858.81 624.30 L859.82 624.03 L860.83 623.77 L861.83 623.51 L862.84 623.25 L863.85 623.00 L864.85 622.75 L865.86 622.51 L866.87 622.27 L867.87 622.03 L868.88 621.80 L869.89 621.57 L870.89 621.35 L871.90 621.13 L872.91 620.91 L873.91 620.70 L874.92 620.49 L875.93 620.29 L876.93 620.09 L877.94 619.89 L878.95 619.70 L879.95 619.51 L880.96 619.32 L881.97 619.14 L882.97 618.96 L883.98 618.78 L884.99 618.61 L885.99 618.45 L887.00 618.28 L888.01 618.12 L889.01 617.96 L890.02 617.81 L891.03 617.66 L892.03 617.51 L893.04 617.37 L894.05 617.23 L895.05 617.09 L896.06 616.96 L897.07 616.83 L898.07 616.70 L899.08 616.58 L900.09 616.45 L901.09 616.34 L902.10 616.22 L903.11 616.11 L904.11 616.00 L905.12 615.90 L906.13 615.80 L907.13 615.70 L908.14 615.60 L909.15 615.51 L910.15 615.42 L911.16 615.33 L912.17 615.25 L913.17 615.17 L914.18 615.09 L915.19 615.01 L916.19 614.94 L917.20 614.87 L918.21 614.80 L919.21 614.74 L920.22 614.68 L921.23 614.62 L922.23 614.56 L923.24 614.51 L924.25 614.46 L925.25 614.41 L926.26 614.37 L927.27 614.32 L928.27 614.28 L929.28 614.24 L930.29 614.21 L931.29 614.18 L932.30 614.14 L933.31 614.12 L934.31 614.09 L935.32 614.07 L936.33 614.05 L937.33 614.03 L938.34 614.01 L939.35 614.00 L940.35 613.99 L941.36 613.98 L942.37 613.97 L943.37 613.97 L944.38 613.96 L945.39 613.96 L946.39 613.96 L947.40 613.97 L948.41 613.97 L949.41 613.98 L950.42 613.99 L951.43 614.00 L952.43 614.02 L953.44 614.03 L954.45 614.05 L955.45 614.07 L956.46 614.09 L957.47 614.12 L958.47 614.14 L959.48 614.17 L960.49 614.20 L961.49 614.23 L962.50 614.26 L963.51 614.30 L964.51 614.34 L965.52 614.38 L966.53 614.42 L967.53 614.46 L968.54 614.50 L969.55 614.55 L970.55 614.59 L971.56 614.64 L972.57 614.69 L973.57 614.74 L974.58 614.80 L975.59 614.85 L976.59 614.91 L977.60 614.97 L978.61 615.03 L979.61 615.09 L980.62 615.15 L981.63 615.22 L982.63 615.28 L983.64 615.35 L984.65 615.42 L985.65 615.49 L986.66 615.56 L987.67 615.63 L988.67 615.70 L989.68 615.78 L990.69 615.86 L991.69 615.93 L992.70 616.01 L993.71 616.09 L994.71 616.17 L995.72 616.26 L996.73 616.34 L997.73 616.43 L998.74 616.51 L999.75 616.60 L1000.75 616.69 L1001.76 616.78 L1002.77 616.87 L1003.77 616.96 L1004.78 617.05 L1005.79 617.15 L1006.79 617.24 L1007.80 617.34 L1008.81 617.44 L1009.81 617.53 L1010.82 617.63 L1011.83 617.73 L1012.83 617.83 L1013.84 617.93 L1014.85 618.04 L1015.85 618.14 L1016.86 618.25 L1017.87 618.35 L1018.87 618.46 L1019.88 618.56 L1020.89 618.67 L1021.89 618.78 L1022.90 618.89 L1023.91 619.00 L1024.91 619.11 L1025.92 619.22 L1026.93 619.33 L1027.93 619.45 L1028.94 619.56 L1029.95 619.68 L1030.95 619.79 L1031.96 619.91 L1032.97 620.02 L1033.97 620.14 L1034.98 620.26 L1035.99 620.38 L1036.99 620.50 L1038.00 620.62 L1039.01 620.74 L1040.01 620.86 L1041.02 620.98 L1042.03 621.10 L1043.03 621.22 L1044.04 621.35 L1045.05 621.47 L1046.05 621.59 L1047.06 621.72 L1048.07 621.84 L1049.07 621.97 L1050.08 622.09 L1051.09 622.22 L1052.09 622.34 L1053.10 622.47 L1054.11 622.60 L1055.11 622.73 L1056.12 622.85 L1057.13 622.98 L1058.13 623.11 L1059.14 623.24 L1060.15 623.37 L1061.15 623.50 L1062.16 623.63 L1063.17 623.76 L1064.17 623.89 L1065.18 624.02 L1066.19 624.15 L1067.19 624.28 L1068.20 624.42 L1069.21 624.55 L1070.21 624.68 L1071.22 624.81 L1072.23 624.94 L1073.23 625.08 L1074.24 625.21 L1075.25 625.34 L1076.25 625.47 L1077.26 625.61 L1078.27 625.74 L1079.27 625.88 L1080.28 626.01 L1081.29 626.14 L1082.29 626.28 L1083.30 626.41 L1084.31 626.54 L1085.31 626.68 L1086.32 626.81 L1087.33 626.95 L1088.33 627.08 L1089.34 627.22 L1090.35 627.35 L1091.35 627.48 L1092.36 627.62 L1093.37 627.75 L1094.37 627.89 L1095.38 628.02 L1096.39 628.16 L1097.39 628.29 L1098.40 628.42 L1099.41 628.56 L1100.41 628.69 L1101.42 628.83 L1102.43 628.96 L1103.43 629.10 L1104.44 629.23 L1105.45 629.36 L1106.45 629.50 L1107.46 629.63 L1108.47 629.76 L1109.47 629.90 L1110.48 630.03 L1111.49 630.16 L1112.49 630.30 L1113.50 630.43 L1114.51 630.56 L1115.51 630.70 L1116.52 630.83 L1117.53 630.96 L1118.53 631.09 L1119.54 631.23 L1120.55 631.36 L1121.55 631.49 L1122.56 631.62 L1123.57 631.75 L1124.57 631.88 L1125.58 632.01 L1126.59 632.14 L1127.59 632.27 L1128.60 632.40 L1129.61 632.53 L1130.61 632.66 L1131.62 632.79 L1132.63 632.92 L1133.63 633.05 L1134.64 633.18 L1135.65 633.31 L1136.65 633.44 L1137.66 633.56 L1138.67 633.69 L1139.67 633.82 L1140.68 633.95 L1141.69 634.07 L1142.69 634.20 L1143.70 634.32 L1144.71 634.45 L1145.71 634.58 L1146.72 634.70 L1147.73 634.83 L1148.73 634.95 L1149.74 635.07 L1150.75 635.20 L1151.75 635.32 L1152.76 635.44 L1153.77 635.57 L1154.77 635.69 L1155.78 635.81 L1156.79 635.93 L1157.79 636.05 L1158.80 636.18 L1159.81 636.30 L1160.81 636.42 L1161.82 636.54 L1162.83 636.66 L1163.83 636.77 L1164.84 636.89 L1165.85 637.01 L1166.85 637.13 L1167.86 637.25 L1168.87 637.36 L1169.87 637.48 L1170.88 637.60 L1171.89 637.71 L1172.89 637.83 L1173.90 637.94 L1174.91 638.06 L1175.91 638.17 L1176.92 638.29 L1177.93 638.40 L1178.93 638.51 L1179.94 638.62 L1180.95 638.74 L1181.95 638.85 L1182.96 638.96 L1183.97 639.07 L1184.97 639.18 L1185.98 639.29 L1186.99 639.40 L1187.99 639.51 L1189.00 639.62 L1190.01 639.72 L1191.01 639.83 L1192.02 639.94 L1193.03 640.05 L1194.03 640.15 L1195.04 640.26 L1196.05 640.36 L1197.05 640.47 L1198.06 640.57 L1199.07 640.68 L1200.07 640.78 L1201.08 640.88 L1202.09 640.98 L1203.09 641.09 L1204.10 641.19 L1205.11 641.29 L1206.11 641.39 L1207.12 641.49 L1208.13 641.59 L1209.13 641.69 L1210.14 641.79 L1211.15 641.88 L1212.15 641.98 L1213.16 642.08 L1214.17 642.18 L1215.17 642.27 L1216.18 642.37 L1217.19 642.46 L1218.19 642.56 L1219.20 642.65 L1220.21 642.75 L1221.21 642.84 L1222.22 642.93 L1223.23 643.02 L1224.23 643.11 L1225.24 643.21 L1226.25 643.30 L1227.25 643.39 L1228.26 643.48 L1229.27 643.57 L1230.27 643.65 L1231.28 643.74 L1232.29 643.83 L1233.29 643.92 L1234.30 644.00 L1235.31 644.09 L1236.31 644.18 L1237.32 644.26 L1238.33 644.35 L1239.33 644.43 L1240.34 644.51 L1241.35 644.60 L1242.35 644.68 L1243.36 644.76 L1244.37 644.84 L1245.37 644.92 L1246.38 645.00 L1247.39 645.08 L1248.39 645.16 L1249.40 645.24 L1250.41 645.32 L1251.41 645.40 L1252.42 645.48 L1253.43 645.55 L1254.43 645.63 L1255.44 645.71 L1256.45 645.78 L1257.45 645.86 L1258.46 645.93 L1259.47 646.01 L1260.47 646.08 L1261.48 646.15 L1262.49 646.23 L1263.49 646.30 L1264.50 646.37 L1265.51 646.44 L1266.51 646.51 L1267.52 646.58 L1268.53 646.65 L1269.53 646.72 L1270.54 646.79 L1271.55 646.86 L1272.55 646.93 L1273.56 646.99 L1274.57 647.06 L1275.57 647.13 L1276.58 647.19 L1277.59 647.26 L1278.59 647.32 L1279.60 647.39 L1280.61 647.45 L1281.61 647.51 L1282.62 647.57 L1283.63 647.64 L1284.63 647.70 L1285.64 647.76 L1286.65 647.82 L1287.65 647.88 L1288.66 647.94 L1289.67 648.00 L1290.67 648.06 L1291.68 648.12 L1292.69 648.18 L1293.69 648.23 L1294.70 648.29 L1295.71 648.35 L1296.71 648.40 L1297.72 648.46 L1298.73 648.52 L1299.73 648.57 L1300.74 648.62 L1301.75 648.68 L1302.75 648.73 L1303.76 648.78 L1304.77 648.84 L1305.77 648.89 L1306.78 648.94 L1307.79 648.99 L1308.79 649.04 L1309.80 649.09 L1310.81 649.14 L1311.81 649.19 L1312.82 649.24 L1313.83 649.29 L1314.83 649.34 L1315.84 649.38 L1316.85 649.43 L1317.85 649.48 L1318.86 649.52 L1319.87 649.57 L1320.87 649.62 L1321.88 649.66 L1322.89 649.71 L1323.89 649.75 L1324.90 649.79 L1325.91 649.84 L1326.91 649.88 L1327.92 649.92 L1328.93 649.96 L1329.93 650.00 L1330.94 650.05 L1331.95 650.09 L1332.95 650.13 L1333.96 650.17 L1334.97 650.21 L1335.97 650.25 L1336.98 650.28 L1337.99 650.32 L1338.99 650.36 L1340.00 650.40 L1341.01 650.43 L1342.01 650.47 L1343.02 650.51 L1344.03 650.54 L1345.03 650.58 L1346.04 650.61 L1347.05 650.65 L1348.05 650.68 L1349.06 650.72 L1350.07 650.75 L1351.07 650.78 L1352.08 650.82 L1353.09 650.85 L1354.09 650.88 L1355.10 650.91 L1356.11 650.94 L1357.11 650.97 L1358.12 651.00 L1359.13 651.03 L1360.13 651.06 L1361.14 651.09 L1362.15 651.12 L1363.15 651.15 L1364.16 651.18 L1365.17 651.21 L1366.17 651.24 L1367.18 651.26 L1368.19 651.29 L1369.19 651.32 L1370.20 651.34 L1371.21 651.37 L1372.21 651.39 L1373.22 651.42 L1374.23 651.44 L1375.23 651.47 L1376.24 651.49 L1377.25 651.52 L1378.25 651.54 L1379.26 651.56 L1380.27 651.59 L1381.27 651.61 L1382.28 651.63 L1383.29 651.65 L1384.29 651.67 L1385.30 651.69 L1386.31 651.72 L1387.31 651.74 L1388.32 651.76 L1389.33 651.78 L1390.33 651.80 L1391.34 651.82 L1392.35 651.83 L1393.35 651.85 L1394.36 651.87 L1395.37 651.89 L1396.37 651.91 L1397.38 651.92 L1398.39 651.94 L1399.39 651.96 L1400.40 651.98 L1401.41 651.99 L1402.41 652.01 L1403.42 652.02 L1404.43 652.04 L1405.43 652.05 L1406.44 652.07 L1407.45 652.08 L1408.45 652.10 L1409.46 652.11 L1410.47 652.13 L1411.47 652.14 L1412.48 652.15 L1413.49 652.17 L1414.49 652.18 L1415.50 652.19 L1416.51 652.20 L1417.51 652.22 L1418.52 652.23 L1419.53 652.24 L1420.53 652.25 L1421.54 652.26 L1422.55 652.27 L1423.55 652.28 L1424.56 652.29 L1425.57 652.30 L1426.57 652.31 L1427.58 652.32 L1428.59 652.33 L1429.59 652.34 L1430.60 652.35 L1431.61 652.36 L1432.61 652.36 L1433.62 652.37 L1434.63 652.38 L1435.63 652.39 L1436.64 652.40 L1437.65 652.40 L1438.65 652.41 L1439.66 652.42 L1440.67 652.42 L1441.67 652.43 L1442.68 652.43 L1443.69 652.44 L1444.69 652.45 L1445.70 652.45 L1446.71 652.46 L1447.71 652.46 L1448.72 652.47 L1449.73 652.47 L1450.73 652.48 L1451.74 652.48 L1452.75 652.48 L1453.75 652.49 L1454.76 652.49 L1455.77 652.49 L1456.77 652.50 L1457.78 652.50 L1458.79 652.50 L1459.79 652.51 L1460.80 652.51 L1461.81 652.51 L1462.81 652.51 L1463.82 652.52 L1464.83 652.52 L1465.83 652.52 L1466.84 652.52 L1467.85 652.52 L1468.85 652.52 L1469.86 652.52 L1470.87 652.52 L1471.87 652.52 L1472.88 652.52 L1473.89 652.52 L1474.89 652.52 L1475.90 652.52 L1476.91 652.52 L1477.91 652.52 L1478.92 652.52 L1479.93 652.52 L1480.93 652.52 L1481.94 652.52 L1482.95 652.52 L1483.95 652.52 L1484.96 652.52 L1485.97 652.52 L1486.97 652.51 L1487.98 652.51 L1488.99 652.51 L1489.99 652.51 L1491.00 652.51 L1492.01 652.50 L1493.01 652.50 L1494.02 652.50 L1495.03 652.49 L1496.03 652.49 L1497.04 652.49 L1498.05 652.49 L1499.05 652.48 L1500.06 652.48 L1501.07 652.47 L1502.07 652.47 L1503.08 652.47 L1504.09 652.46 L1505.09 652.46 L1506.10 652.45 L1507.11 652.45 L1508.11 652.45 L1509.12 652.44 L1510.13 652.44 L1511.13 652.43 L1512.14 652.43 L1513.15 652.42 L1514.15 652.42 L1515.16 652.41 L1516.17 652.41 L1517.17 652.40 L1518.18 652.40 L1519.19 652.39 L1520.19 652.38 L1521.20 652.38 L1522.21 652.37 L1523.21 652.37 L1524.22 652.36 L1525.23 652.36 L1526.23 652.35 L1527.24 652.34 L1528.25 652.34 L1529.25 652.33 L1530.26 652.32 L1531.27 652.32 L1532.27 652.31 L1533.28 652.30 L1534.29 652.30 L1535.29 652.29 L1536.30 652.28 L1537.31 652.28 L1538.31 652.27 L1539.32 652.26 L1540.33 652.25 L1541.33 652.25 L1542.34 652.24 L1543.35 652.23 L1544.35 652.22 L1545.36 652.22 L1546.37 652.21 L1547.37 652.20 L1548.38 652.19 L1549.39 652.18 L1550.39 652.18 L1551.40 652.17 L1552.41 652.16 L1553.41 652.15 L1554.42 652.14 L1555.43 652.14 L1556.43 652.13 L1557.44 652.12 L1558.45 652.11 L1559.45 652.10 L1560.46 652.09 L1561.47 652.08 L1562.47 652.08 L1563.48 652.07 L1564.49 652.06 L1565.49 652.05 L1566.50 652.04 L1567.51 652.03 L1568.51 652.02 L1569.52 652.01 L1570.53 652.01 L1571.53 652.00 L1572.54 651.99 L1573.55 651.98 L1574.55 651.97 L1575.56 651.96 L1576.57 651.95 L1577.57 651.94 L1578.58 651.93 L1579.59 651.92 L1580.59 651.91 L1581.60 651.90 L1582.61 651.89 L1583.61 651.89 L1584.62 651.88 L1585.63 651.87 L1586.63 651.86 L1587.64 651.85 L1588.65 651.84 L1589.65 651.83 L1590.66 651.82 L1591.67 651.81 L1592.67 651.80 L1593.68 651.79 L1594.69 651.78 L1595.69 651.77 L1596.70 651.76 L1597.71 651.75 L1598.71 651.74 L1599.72 651.73 L1600.73 651.72 L1601.73 651.71 L1602.74 651.70 L1603.75 651.69 L1604.75 651.68 L1605.76 651.67 L1606.77 651.66 L1607.77 651.65 L1608.78 651.64 L1609.79 651.63 L1610.79 651.62 L1611.80 651.61 L1612.81 651.60 L1613.81 651.59 L1614.82 651.58 L1615.83 651.57 L1616.83 651.56 L1617.84 651.55 L1618.85 651.54 L1619.85 651.53 L1620.86 651.52 L1621.87 651.51 L1622.87 651.50 L1623.88 651.49 L1624.89 651.48 L1625.89 651.47 L1626.90 651.46 L1627.91 651.45 L1628.91 651.44 L1629.92 651.43 L1630.93 651.42 L1631.93 651.41 L1632.94 651.40 L1633.95 651.39 L1634.95 651.38 L1635.96 651.37 L1636.97 651.36 L1637.97 651.35 L1638.98 651.34 L1639.99 651.33 L1640.99 651.32 L1642.00 651.31 L1643.01 651.30 L1644.01 651.29 L1645.02 651.28 L1646.03 651.27 L1647.03 651.26 L1648.04 651.26 L1649.05 651.25 L1650.05 651.24 L1651.06 651.23 L1652.07 651.22 L1653.07 651.21 L1654.08 651.20 L1655.09 651.19 L1656.09 651.18 L1657.10 651.17 L1658.11 651.16 L1659.11 651.15 L1660.12 651.14 L1661.13 651.13 L1662.13 651.12 L1663.14 651.11 L1664.15 651.10 L1665.15 651.09 L1666.16 651.08 L1667.17 651.07 L1668.17 651.06 L1669.18 651.05 L1670.19 651.04 L1671.19 651.03 L1672.20 651.02 L1673.21 651.02 L1674.21 651.01 L1675.22 651.00 L1676.23 650.99 L1677.23 650.98 L1678.24 650.97 L1679.25 650.96 L1680.25 650.95 L1681.26 650.94 L1682.27 650.93 L1683.27 650.92 L1684.28 650.91 L1685.29 650.91 L1686.29 650.90 L1687.30 650.89 L1688.31 650.88 L1689.31 650.87 L1690.32 650.86 L1691.33 650.85 L1692.33 650.84 L1693.34 650.83 L1694.35 650.82 L1695.35 650.82 L1696.36 650.81 L1697.37 650.80 L1698.37 650.79 L1699.38 650.78 L1700.39 650.77 L1701.39 650.76 L1702.40 650.76 L1703.41 650.75 L1704.41 650.74 L1705.42 650.73 L1706.43 650.72 L1707.43 650.71 L1708.44 650.70 L1709.45 650.70 L1710.45 650.69 L1711.46 650.68 L1712.47 650.67 L1713.47 650.66 L1714.48 650.66 L1715.49 650.65 L1716.49 650.64 L1717.50 650.63" stroke="#ff0000" stroke-width="3.65"/>
<path d="M207.50 42.85 L208.51 55.46 L209.51 67.78 L210.52 79.81 L211.53 91.56 L212.53 103.02 L213.54 114.22 L214.55 125.15 L215.55 135.81 L216.56 146.22 L217.57 156.37 L218.57 166.27 L219.58 175.93 L220.59 185.35 L221.59 194.53 L222.60 203.48 L223.61 212.20 L224.61 220.70 L225.62 228.98 L226.63 237.05 L227.63 244.90 L228.64 252.54 L229.65 259.99 L230.65 267.23 L231.66 274.27 L232.67 281.13 L233.67 287.79 L234.68 294.27 L235.69 300.57 L236.69 306.69 L237.70 312.64 L238.71 318.41 L239.71 324.02 L240.72 329.46 L241.73 334.74 L242.73 339.86 L243.74 344.83 L244.75 349.64 L245.75 354.31 L246.76 358.83 L247.77 363.20 L248.77 367.43 L249.78 371.53 L250.79 375.49 L251.79 379.32 L252.80 383.02 L253.81 386.59 L254.81 390.04 L255.82 393.36 L256.83 396.57 L257.83 399.66 L258.84 402.63 L259.85 405.49 L260.85 408.24 L261.86 410.89 L262.87 413.43 L263.87 415.86 L264.88 418.20 L265.89 420.44 L266.89 422.58 L267.90 424.62 L268.91 426.57 L269.91 428.44 L270.92 430.21 L271.93 431.90 L272.93 433.50 L273.94 435.02 L274.95 436.46 L275.95 437.82 L276.96 439.10 L277.97 440.31 L278.97 441.44 L279.98 442.50 L280.99 443.49 L281.99 444.41 L283.00 445.27 L284.01 446.05 L285.01 446.78 L286.02 447.44 L287.03 448.04 L288.03 448.58 L289.04 449.06 L290.05 449.49 L291.05 449.86 L292.06 450.17 L293.07 450.44 L294.07 450.65 L295.08 450.81 L296.09 450.92 L297.09 450.99 L298.10 451.01 L299.11 450.98 L300.11 450.91 L301.12 450.80 L302.13 450.64 L303.13 450.45 L304.14 450.21 L305.15 449.94 L306.15 449.63 L307.16 449.28 L308.17 448.90 L309.17 448.48 L310.18 448.03 L311.19 447.54 L312.19 447.03 L313.20 446.48 L314.21 445.91 L315.21 445.31 L316.22 444.67 L317.23 444.02 L318.23 443.33 L319.24 442.62 L320.25 441.88 L321.25 441.13 L322.26 440.34 L323.27 439.54 L324.27 438.71 L325.28 437.87 L326.29 437.00 L327.29 436.11 L328.30 435.21 L329.31 434.28 L330.31 433.34 L331.32 432.38 L332.33 431.41 L333.33 430.42 L334.34 429.42 L335.35 428.40 L336.35 427.36 L337.36 426.32 L338.37 425.26 L339.37 424.19 L340.38 423.10 L341.39 422.01 L342.39 420.91 L343.40 419.79 L344.41 418.67 L345.41 417.53 L346.42 416.39 L347.43 415.24 L348.43 414.08 L349.44 412.92 L350.45 411.74 L351.45 410.57 L352.46 409.38 L353.47 408.19 L354.47 406.99 L355.48 405.79 L356.49 404.59 L357.49 403.38 L358.50 402.16 L359.51 400.94 L360.51 399.72 L361.52 398.50 L362.53 397.27 L363.53 396.04 L364.54 394.81 L365.55 393.58 L366.55 392.35 L367.56 391.11 L368.57 389.88 L369.57 388.64 L370.58 387.40 L371.59 386.17 L372.59 384.93 L373.60 383.69 L374.61 382.46 L375.61 381.22 L376.62 379.99 L377.63 378.76 L378.63 377.53 L379.64 376.30 L380.65 375.07 L381.65 373.85 L382.66 372.62 L383.67 371.40 L384.67 370.19 L385.68 368.97 L386.69 367.76 L387.69 366.55 L388.70 365.35 L389.71 364.15 L390.71 362.95 L391.72 361.76 L392.73 360.57 L393.73 359.38 L394.74 358.20 L395.75 357.02 L396.75 355.85 L397.76 354.68 L398.77 353.51 L399.77 352.36 L400.78 351.20 L401.79 350.05 L402.79 348.91 L403.80 347.77 L404.81 346.64 L405.81 345.51 L406.82 344.38 L407.83 343.27 L408.83 342.16 L409.84 341.05 L410.85 339.95 L411.85 338.85 L412.86 337.77 L413.87 336.68 L414.87 335.61 L415.88 334.54 L416.89 333.47 L417.89 332.41 L418.90 331.36 L419.91 330.32 L420.91 329.28 L421.92 328.24 L422.93 327.22 L423.93 326.20 L424.94 325.18 L425.95 324.17 L426.95 323.17 L427.96 322.18 L428.97 321.19 L429.97 320.21 L430.98 319.24 L431.99 318.27 L432.99 317.31 L434.00 316.35 L435.01 315.41 L436.01 314.47 L437.02 313.53 L438.03 312.60 L439.03 311.68 L440.04 310.77 L441.05 309.86 L442.05 308.96 L443.06 308.07 L444.07 307.18 L445.07 306.30 L446.08 305.43 L447.09 304.56 L448.09 303.70 L449.10 302.85 L450.11 302.00 L451.11 301.16 L452.12 300.33 L453.13 299.51 L454.13 298.69 L455.14 297.88 L456.15 297.07 L457.15 296.27 L458.16 295.48 L459.17 294.69 L460.17 293.91 L461.18 293.14 L462.19 292.38 L463.19 291.62 L464.20 290.86 L465.21 290.12 L466.21 289.38 L467.22 288.65 L468.23 287.92 L469.23 287.20 L470.24 286.48 L471.25 285.78 L472.25 285.08 L473.26 284.38 L474.27 283.69 L475.27 283.01 L476.28 282.34 L477.29 281.67 L478.29 281.00 L479.30 280.35 L480.31 279.70 L481.31 279.05 L482.32 278.41 L483.33 277.78 L484.33 277.15 L485.34 276.53 L486.35 275.92 L487.35 275.31 L488.36 274.71 L489.37 274.11 L490.37 273.52 L491.38 272.93 L492.39 272.35 L493.39 271.78 L494.40 271.21 L495.41 270.65 L496.41 270.09 L497.42 269.54 L498.43 269.00 L499.43 268.46 L500.44 267.92 L501.45 267.39 L502.45 266.87 L503.46 266.35 L504.47 265.84 L505.47 265.33 L506.48 264.83 L507.49 264.33 L508.49 263.84 L509.50 263.35 L510.51 262.87 L511.51 262.39 L512.52 261.92 L513.53 261.45 L514.53 260.99 L515.54 260.54 L516.55 260.08 L517.55 259.64 L518.56 259.19 L519.57 258.76 L520.57 258.32 L521.58 257.90 L522.59 257.47 L523.59 257.05 L524.60 256.64 L525.61 256.23 L526.61 255.83 L527.62 255.43 L528.63 255.03 L529.63 254.64 L530.64 254.25 L531.65 253.87 L532.65 253.49 L533.66 253.11 L534.67 252.74 L535.67 252.38 L536.68 252.02 L537.69 251.66 L538.69 251.31 L539.70 250.96 L540.71 250.61 L541.71 250.27 L542.72 249.93 L543.73 249.60 L544.73 249.27 L545.74 248.94 L546.75 248.62 L547.75 248.30 L548.76 247.99 L549.77 247.68 L550.77 247.37 L551.78 247.07 L552.79 246.77 L553.79 246.47 L554.80 246.18 L555.81 245.89 L556.81 245.60 L557.82 245.32 L558.83 245.04 L559.83 244.76 L560.84 244.49 L561.85 244.22 L562.85 243.96 L563.86 243.69 L564.87 243.43 L565.87 243.18 L566.88 242.92 L567.89 242.67 L568.89 242.43 L569.90 242.18 L570.91 241.94 L571.91 241.70 L572.92 241.47 L573.93 241.24 L574.93 241.01 L575.94 240.78 L576.95 240.56 L577.95 240.34 L578.96 240.12 L579.97 239.91 L580.97 239.69 L581.98 239.48 L582.99 239.28 L583.99 239.07 L585.00 238.87 L586.01 238.67 L587.01 238.48 L588.02 238.28 L589.03 238.09 L590.03 237.90 L591.04 237.71 L592.05 237.53 L593.05 237.35 L594.06 237.17 L595.07 236.99 L596.07 236.82 L597.08 236.64 L598.09 236.47 L599.09 236.31 L600.10 236.14 L601.11 235.98 L602.11 235.81 L603.12 235.66 L604.13 235.50 L605.13 235.34 L606.14 235.19 L607.15 235.04 L608.15 234.89 L609.16 234.74 L610.17 234.60 L611.17 234.46 L612.18 234.31 L613.19 234.18 L614.19 234.04 L615.20 233.90 L616.21 233.77 L617.21 233.64 L618.22 233.51 L619.23 233.38 L620.23 233.25 L621.24 233.13 L622.25 233.01 L623.25 232.89 L624.26 232.77 L625.27 232.65 L626.27 232.53 L627.28 232.42 L628.29 232.30 L629.29 232.19 L630.30 232.08 L631.31 231.97 L632.31 231.87 L633.32 231.76 L634.33 231.66 L635.33 231.56 L636.34 231.46 L637.35 231.36 L638.35 231.26 L639.36 231.16 L640.37 231.07 L641.37 230.97 L642.38 230.88 L643.39 230.79 L644.39 230.70 L645.40 230.61 L646.41 230.52 L647.41 230.44 L648.42 230.35 L649.43 230.27 L650.43 230.19 L651.44 230.11 L652.45 230.03 L653.45 229.95 L654.46 229.87 L655.47 229.79 L656.47 229.72 L657.48 229.65 L658.49 229.57 L659.49 229.50 L660.50 229.43 L661.51 229.36 L662.51 229.29 L663.52 229.22 L664.53 229.16 L665.53 229.09 L666.54 229.03 L667.55 228.96 L668.55 228.90 L669.56 228.84 L670.57 228.78 L671.57 228.72 L672.58 228.66 L673.59 228.60 L674.59 228.54 L675.60 228.49 L676.61 228.43 L677.61 228.38 L678.62 228.32 L679.63 228.27 L680.63 228.22 L681.64 228.17 L682.65 228.12 L683.65 228.07 L684.66 228.02 L685.67 227.97 L686.67 227.92 L687.68 227.88 L688.69 227.83 L689.69 227.79 L690.70 227.74 L691.71 227.70 L692.71 227.66 L693.72 227.61 L694.73 227.57 L695.73 227.53 L696.74 227.49 L697.75 227.45 L698.75 227.41 L699.76 227.38 L700.77 227.34 L701.77 227.30 L702.78 227.26 L703.79 227.23 L704.79 227.19 L705.80 227.16 L706.81 227.12 L707.81 227.09 L708.82 227.06 L709.83 227.03 L710.83 226.99 L711.84 226.96 L712.85 226.93 L713.85 226.90 L714.86 226.87 L715.87 226.84 L716.87 226.81 L717.88 226.79 L718.89 226.76 L719.89 226.73 L720.90 226.70 L721.91 226.68 L722.91 226.65 L723.92 226.63 L724.93 226.60 L725.93 226.58 L726.94 226.55 L727.95 226.53 L728.95 226.51 L729.96 226.48 L730.97 226.46 L731.97 226.44 L732.98 226.42 L733.99 226.39 L734.99 226.37 L736.00 226.35 L737.01 226.33 L738.01 226.31 L739.02 226.29 L740.03 226.27 L741.03 226.26 L742.04 226.24 L743.05 226.22 L744.05 226.20 L745.06 226.18 L746.07 226.17 L747.07 226.15 L748.08 226.13 L749.09 226.12 L750.09 226.10 L751.10 226.09 L752.11 226.07 L753.11 226.06 L754.12 226.04 L755.13 226.03 L756.13 226.01 L757.14 226.00 L758.15 225.99 L759.15 225.97 L760.16 225.96 L761.17 225.95 L762.17 225.93 L763.18 225.92 L764.19 225.91 L765.19 225.90 L766.20 225.89 L767.21 225.87 L768.21 225.86 L769.22 225.85 L770.23 225.84 L771.23 225.83 L772.24 225.82 L773.25 225.81 L774.25 225.80 L775.26 225.79 L776.27 225.78 L777.27 225.77 L778.28 225.76 L779.29 225.76 L780.29 225.75 L781.30 225.74 L782.31 225.73 L783.31 225.72 L784.32 225.71 L785.33 225.71 L786.33 225.70 L787.34 225.69 L788.35 225.68 L789.35 225.68 L790.36 225.67 L791.37 225.66 L792.37 225.66 L793.38 225.65 L794.39 225.64 L795.39 225.64 L796.40 225.63 L797.41 225.62 L798.41 225.62 L799.42 225.61 L800.43 225.61 L801.43 225.60 L802.44 225.60 L803.45 225.59 L804.45 225.59 L805.46 225.58 L806.47 225.58 L807.47 225.57 L808.48 225.57 L809.49 225.56 L810.49 225.56 L811.50 225.55 L812.51 225.55 L813.51 225.55 L814.52 225.54 L815.53 225.54 L816.53 225.53 L817.54 225.53 L818.55 225.53 L819.55 225.52 L820.56 225.52 L821.57 225.52 L822.57 225.51 L823.58 225.51 L824.59 225.51 L825.59 225.51 L826.60 225.50 L827.61 225.50 L828.61 225.50 L829.62 225.49 L830.63 225.49 L831.63 225.49 L832.64 225.49 L833.65 225.48 L834.65 225.48 L835.66 225.48 L836.67 225.48 L837.67 225.48 L838.68 225.47 L839.69 225.47 L840.69 225.47 L841.70 225.47 L842.71 225.47 L843.71 225.47 L844.72 225.46 L845.73 225.46 L846.73 225.46 L847.74 225.46 L848.75 225.46 L849.75 225.46 L850.76 225.46 L851.77 225.45 L852.77 225.45 L853.78 225.45 L854.79 225.45 L855.79 225.45 L856.80 225.45 L857.81 225.45 L858.81 225.45 L859.82 225.45 L860.83 225.44 L861.83 225.44 L862.84 225.44 L863.85 225.44 L864.85 225.44 L865.86 225.44 L866.87 225.44 L867.87 225.44 L868.88 225.44 L869.89 225.44 L870.89 225.44 L871.90 225.44 L872.91 225.44 L873.91 225.44 L874.92 225.44 L875.93 225.44 L876.93 225.44 L877.94 225.44 L878.95 225.44 L879.95 225.44 L880.96 225.44 L881.97 225.43 L882.97 225.43 L883.98 225.43 L884.99 225.43 L885.99 225.43 L887.00 225.43 L888.01 225.43 L889.01 225.43 L890.02 225.43 L891.03 225.43 L892.03 225.43 L893.04 225.43 L894.05 225.43 L895.05 225.43 L896.06 225.43 L897.07 225.44 L898.07 225.44 L899.08 225.44 L900.09 225.44 L901.09 225.44 L902.10 225.44 L903.11 225.44 L904.11 225.44 L905.12 225.44 L906.13 225.44 L907.13 225.44 L908.14 225.44 L909.15 225.44 L910.15 225.44 L911.16 225.44 L912.17 225.44 L913.17 225.44 L914.18 225.44 L915.19 225.44 L916.19 225.44 L917.20 225.44 L918.21 225.44 L919.21 225.44 L920.22 225.44 L921.23 225.44 L922.23 225.44 L923.24 225.44 L924.25 225.44 L925.25 225.44 L926.26 225.44 L927.27 225.44 L928.27 225.45 L929.28 225.45 L930.29 225.45 L931.29 225.45 L932.30 225.45 L933.31 225.45 L934.31 225.45 L935.32 225.45 L936.33 225.45 L937.33 225.45 L938.34 225.45 L939.35 225.45 L940.35 225.45 L941.36 225.45 L942.37 225.45 L943.37 225.45 L944.38 225.45 L945.39 225.45 L946.39 225.45 L947.40 225.46 L948.41 225.46 L949.41 225.46 L950.42 225.46 L951.43 225.46 L952.43 225.46 L953.44 225.46 L954.45 225.46 L955.45 225.46 L956.46 225.46 L957.47 225.46 L958.47 225.46 L959.48 225.46 L960.49 225.46 L961.49 225.46 L962.50 225.46 L963.51 225.46 L964.51 225.46 L965.52 225.47 L966.53 225.47 L967.53 225.47 L968.54 225.47 L969.55 225.47 L970.55 225.47 L971.56 225.47 L972.57 225.47 L973.57 225.47 L974.58 225.47 L975.59 225.47 L976.59 225.47 L977.60 225.47 L978.61 225.47 L979.61 225.47 L980.62 225.47 L981.63 225.47 L982.63 225.47 L983.64 225.47 L984.65 225.48 L985.65 225.48 L986.66 225.48 L987.67 225.48 L988.67 225.48 L989.68 225.48 L990.69 225.48 L991.69 225.48 L992.70 225.48 L993.71 225.48 L994.71 225.48 L995.72 225.48 L996.73 225.48 L997.73 225.48 L998.74 225.48 L999.75 225.48 L1000.75 225.48 L1001.76 225.48 L1002.77 225.48 L1003.77 225.49 L1004.78 225.49 L1005.79 225.49 L1006.79 225.49 L1007.80 225.49 L1008.81 225.49 L1009.81 225.49 L1010.82 225.49 L1011.83 225.49 L1012.83 225.49 L1013.84 225.49 L1014.85 225.49 L1015.85 225.49 L1016.86 225.49 L1017.87 225.49 L1018.87 225.49 L1019.88 225.49 L1020.89 225.49 L1021.89 225.49 L1022.90 225.49 L1023.91 225.49 L1024.91 225.49 L1025.92 225.50 L1026.93 225.50 L1027.93 225.50 L1028.94 225.50 L1029.95 225.50 L1030.95 225.50 L1031.96 225.50 L1032.97 225.50 L1033.97 225.50 L1034.98 225.50 L1035.99 225.50 L1036.99 225.50 L1038.00 225.50 L1039.01 225.50 L1040.01 225.50 L1041.02 225.50 L1042.03 225.50 L1043.03 225.50 L1044.04 225.50 L1045.05 225.50 L1046.05 225.50 L1047.06 225.50 L1048.07 225.50 L1049.07 225.50 L1050.08 225.50 L1051.09 225.50 L1052.09 225.51 L1053.10 225.51 L1054.11 225.51 L1055.11 225.51 L1056.12 225.51 L1057.13 225.51 L1058.13 225.51 L1059.14 225.51 L1060.15 225.51 L1061.15 225.51 L1062.16 225.51 L1063.17 225.51 L1064.17 225.51 L1065.18 225.51 L1066.19 225.51 L1067.19 225.51 L1068.20 225.51 L1069.21 225.51 L1070.21 225.51 L1071.22 225.51 L1072.23 225.51 L1073.23 225.51 L1074.24 225.51 L1075.25 225.51 L1076.25 225.51 L1077.26 225.51 L1078.27 225.51 L1079.27 225.51 L1080.28 225.51 L1081.29 225.51 L1082.29 225.51 L1083.30 225.51 L1084.31 225.51 L1085.31 225.52 L1086.32 225.52 L1087.33 225.52 L1088.33 225.52 L1089.34 225.52 L1090.35 225.52 L1091.35 225.52 L1092.36 225.52 L1093.37 225.52 L1094.37 225.52 L1095.38 225.52 L1096.39 225.52 L1097.39 225.52 L1098.40 225.52 L1099.41 225.52 L1100.41 225.52 L1101.42 225.52 L1102.43 225.52 L1103.43 225.52 L1104.44 225.52 L1105.45 225.52 L1106.45 225.52 L1107.46 225.52 L1108.47 225.52 L1109.47 225.52 L1110.48 225.52 L1111.49 225.52 L1112.49 225.52 L1113.50 225.52 L1114.51 225.52 L1115.51 225.52 L1116.52 225.52 L1117.53 225.52 L1118.53 225.52 L1119.54 225.52 L1120.55 225.52 L1121.55 225.52 L1122.56 225.52 L1123.57 225.52 L1124.57 225.52 L1125.58 225.52 L1126.59 225.52 L1127.59 225.52 L1128.60 225.52 L1129.61 225.52 L1130.61 225.52 L1131.62 225.52 L1132.63 225.52 L1133.63 225.52 L1134.64 225.52 L1135.65 225.52 L1136.65 225.53 L1137.66 225.53 L1138.67 225.53 L1139.67 225.53 L1140.68 225.53 L1141.69 225.53 L1142.69 225.53 L1143.70 225.53 L1144.71 225.53 L1145.71 225.53 L1146.72 225.53 L1147.73 225.53 L1148.73 225.53 L1149.74 225.53 L1150.75 225.53 L1151.75 225.53 L1152.76 225.53 L1153.77 225.53 L1154.77 225.53 L1155.78 225.53 L1156.79 225.53 L1157.79 225.53 L1158.80 225.53 L1159.81 225.53 L1160.81 225.53 L1161.82 225.53 L1162.83 225.53 L1163.83 225.53 L1164.84 225.53 L1165.85 225.53 L1166.85 225.53 L1167.86 225.53 L1168.87 225.53 L1169.87 225.53 L1170.88 225.53 L1171.89 225.53 L1172.89 225.53 L1173.90 225.53 L1174.91 225.53 L1175.91 225.53 L1176.92 225.53 L1177.93 225.53 L1178.93 225.53 L1179.94 225.53 L1180.95 225.53 L1181.95 225.53 L1182.96 225.53 L1183.97 225.53 L1184.97 225.53 L1185.98 225.53 L1186.99 225.53 L1187.99 225.53 L1189.00 225.53 L1190.01 225.53 L1191.01 225.53 L1192.02 225.53 L1193.03 225.53 L1194.03 225.53 L1195.04 225.53 L1196.05 225.53 L1197.05 225.53 L1198.06 225.53 L1199.07 225.53 L1200.07 225.53 L1201.08 225.53 L1202.09 225.53 L1203.09 225.53 L1204.10 225.53 L1205.11 225.53 L1206.11 225.53 L1207.12 225.53 L1208.13 225.53 L1209.13 225.53 L1210.14 225.53 L1211.15 225.53 L1212.15 225.53 L1213.16 225.53 L1214.17 225.53 L1215.17 225.53 L1216.18 225.53 L1217.19 225.53 L1218.19 225.53 L1219.20 225.53 L1220.21 225.53 L1221.21 225.53 L1222.22 225.53 L1223.23 225.53 L1224.23 225.53 L1225.24 225.53 L1226.25 225.53 L1227.25 225.53 L1228.26 225.53 L1229.27 225.53 L1230.27 225.53 L1231.28 225.53 L1232.29 225.53 L1233.29 225.53 L1234.30 225.53 L1235.31 225.53 L1236.31 225.53 L1237.32 225.53 L1238.33 225.53 L1239.33 225.53 L1240.34 225.53 L1241.35 225.53 L1242.35 225.53 L1243.36 225.53 L1244.37 225.53 L1245.37 225.53 L1246.38 225.53 L1247.39 225.53 L1248.39 225.53 L1249.40 225.53 L1250.41 225.53 L1251.41 225.53 L1252.42 225.53 L1253.43 225.53 L1254.43 225.53 L1255.44 225.53 L1256.45 225.53 L1257.45 225.53 L1258.46 225.53 L1259.47 225.53 L1260.47 225.53 L1261.48 225.53 L1262.49 225.53 L1263.49 225.53 L1264.50 225.53 L1265.51 225.53 L1266.51 225.53 L1267.52 225.53 L1268.53 225.53 L1269.53 225.53 L1270.54 225.53 L1271.55 225.53 L1272.55 225.53 L1273.56 225.53 L1274.57 225.53 L1275.57 225.53 L1276.58 225.53 L1277.59 225.53 L1278.59 225.53 L1279.60 225.53 L1280.61 225.53 L1281.61 225.53 L1282.62 225.53 L1283.63 225.53 L1284.63 225.53 L1285.64 225.53 L1286.65 225.53 L1287.65 225.53 L1288.66 225.53 L1289.67 225.53 L1290.67 225.53 L1291.68 225.53 L1292.69 225.53 L1293.69 225.53 L1294.70 225.53 L1295.71 225.53 L1296.71 225.53 L1297.72 225.53 L1298.73 225.53 L1299.73 225.53 L1300.74 225.53 L1301.75 225.53 L1302.75 225.53 L1303.76 225.53 L1304.77 225.53 L1305.77 225.54 L1306.78 225.54 L1307.79 225.54 L1308.79 225.54 L1309.80 225.54 L1310.81 225.54 L1311.81 225.54 L1312.82 225.54 L1313.83 225.54 L1314.83 225.54 L1315.84 225.54 L1316.85 225.54 L1317.85 225.54 L1318.86 225.54 L1319.87 225.54 L1320.87 225.54 L1321.88 225.54 L1322.89 225.54 L1323.89 225.54 L1324.90 225.54 L1325.91 225.54 L1326.91 225.54 L1327.92 225.54 L1328.93 225.54 L1329.93 225.54 L1330.94 225.54 L1331.95 225.54 L1332.95 225.54 L1333.96 225.54 L1334.97 225.54 L1335.97 225.54 L1336.98 225.54 L1337.99 225.54 L1338.99 225.54 L1340.00 225.54 L1341.01 225.54 L1342.01 225.54 L1343.02 225.54 L1344.03 225.54 L1345.03 225.54 L1346.04 225.54 L1347.05 225.54 L1348.05 225.54 L1349.06 225.54 L1350.07 225.54 L1351.07 225.54 L1352.08 225.54 L1353.09 225.54 L1354.09 225.54 L1355.10 225.54 L1356.11 225.54 L1357.11 225.54 L1358.12 225.54 L1359.13 225.54 L1360.13 225.54 L1361.14 225.54 L1362.15 225.54 L1363.15 225.54 L1364.16 225.54 L1365.17 225.54 L1366.17 225.54 L1367.18 225.54 L1368.19 225.54 L1369.19 225.54 L1370.20 225.54 L1371.21 225.54 L1372.21 225.54 L1373.22 225.54 L1374.23 225.54 L1375.23 225.54 L1376.24 225.54 L1377.25 225.54 L1378.25 225.54 L1379.26 225.54 L1380.27 225.54 L1381.27 225.54 L1382.28 225.54 L1383.29 225.54 L1384.29 225.54 L1385.30 225.54 L1386.31 225.54 L1387.31 225.54 L1388.32 225.54 L1389.33 225.54 L1390.33 225.54 L1391.34 225.54 L1392.35 225.54 L1393.35 225.54 L1394.36 225.54 L1395.37 225.54 L1396.37 225.54 L1397.38 225.54 L1398.39 225.54 L1399.39 225.54 L1400.40 225.54 L1401.41 225.54 L1402.41 225.54 L1403.42 225.54 L1404.43 225.54 L1405.43 225.54 L1406.44 225.54 L1407.45 225.54 L1408.45 225.54 L1409.46 225.54 L1410.47 225.54 L1411.47 225.54 L1412.48 225.54 L1413.49 225.54 L1414.49 225.54 L1415.50 225.54 L1416.51 225.54 L1417.51 225.54 L1418.52 225.54 L1419.53 225.54 L1420.53 225.54 L1421.54 225.54 L1422.55 225.54 L1423.55 225.54 L1424.56 225.54 L1425.57 225.54 L1426.57 225.54 L1427.58 225.54 L1428.59 225.54 L1429.59 225.54 L1430.60 225.54 L1431.61 225.54 L1432.61 225.54 L1433.62 225.54 L1434.63 225.54 L1435.63 225.54 L1436.64 225.54 L1437.65 225.54 L1438.65 225.54 L1439.66 225.54 L1440.67 225.54 L1441.67 225.54 L1442.68 225.54 L1443.69 225.54 L1444.69 225.54 L1445.70 225.54 L1446.71 225.54 L1447.71 225.54 L1448.72 225.54 L1449.73 225.54 L1450.73 225.54 L1451.74 225.54 L1452.75 225.54 L1453.75 225.54 L1454.76 225.54 L1455.77 225.54 L1456.77 225.54 L1457.78 225.54 L1458.79 225.54 L1459.79 225.54 L1460.80 225.54 L1461.81 225.54 L1462.81 225.54 L1463.82 225.54 L1464.83 225.54 L1465.83 225.54 L1466.84 225.54 L1467.85 225.54 L1468.85 225.54 L1469.86 225.54 L1470.87 225.54 L1471.87 225.54 L1472.88 225.54 L1473.89 225.54 L1474.89 225.54 L1475.90 225.54 L1476.91 225.54 L1477.91 225.54 L1478.92 225.54 L1479.93 225.54 L1480.93 225.54 L1481.94 225.54 L1482.95 225.54 L1483.95 225.54 L1484.96 225.54 L1485.97 225.54 L1486.97 225.54 L1487.98 225.54 L1488.99 225.54 L1489.99 225.54 L1491.00 225.54 L1492.01 225.54 L1493.01 225.54 L1494.02 225.54 L1495.03 225.54 L1496.03 225.54 L1497.04 225.54 L1498.05 225.54 L1499.05 225.54 L1500.06 225.54 L1501.07 225.54 L1502.07 225.54 L1503.08 225.54 L1504.09 225.54 L1505.09 225.54 L1506.10 225.54 L1507.11 225.54 L1508.11 225.54 L1509.12 225.54 L1510.13 225.54 L1511.13 225.54 L1512.14 225.54 L1513.15 225.54 L1514.15 225.54 L1515.16 225.54 L1516.17 225.54 L1517.17 225.54 L1518.18 225.54 L1519.19 225.54 L1520.19 225.54 L1521.20 225.54 L1522.21 225.54 L1523.21 225.54 L1524.22 225.54 L1525.23 225.54 L1526.23 225.54 L1527.24 225.54 L1528.25 225.54 L1529.25 225.54 L1530.26 225.54 L1531.27 225.54 L1532.27 225.54 L1533.28 225.54 L1534.29 225.54 L1535.29 225.54 L1536.30 225.54 L1537.31 225.54 L1538.31 225.54 L1539.32 225.54 L1540.33 225.54 L1541.33 225.54 L1542.34 225.54 L1543.35 225.54 L1544.35 225.54 L1545.36 225.54 L1546.37 225.54 L1547.37 225.54 L1548.38 225.54 L1549.39 225.54 L1550.39 225.54 L1551.40 225.54 L1552.41 225.54 L1553.41 225.54 L1554.42 225.54 L1555.43 225.54 L1556.43 225.54 L1557.44 225.54 L1558.45 225.54 L1559.45 225.54 L1560.46 225.54 L1561.47 225.54 L1562.47 225.54 L1563.48 225.54 L1564.49 225.54 L1565.49 225.54 L1566.50 225.54 L1567.51 225.54 L1568.51 225.54 L1569.52 225.54 L1570.53 225.54 L1571.53 225.54 L1572.54 225.54 L1573.55 225.54 L1574.55 225.54 L1575.56 225.54 L1576.57 225.54 L1577.57 225.54 L1578.58 225.54 L1579.59 225.54 L1580.59 225.54 L1581.60 225.54 L1582.61 225.54 L1583.61 225.54 L1584.62 225.54 L1585.63 225.54 L1586.63 225.54 L1587.64 225.54 L1588.65 225.54 L1589.65 225.54 L1590.66 225.54 L1591.67 225.54 L1592.67 225.54 L1593.68 225.54 L1594.69 225.54 L1595.69 225.54 L1596.70 225.54 L1597.71 225.54 L1598.71 225.54 L1599.72 225.54 L1600.73 225.54 L1601.73 225.54 L1602.74 225.54 L1603.75 225.54 L1604.75 225.54 L1605.76 225.54 L1606.77 225.54 L1607.77 225.54 L1608.78 225.54 L1609.79 225.54 L1610.79 225.54 L1611.80 225.54 L1612.81 225.54 L1613.81 225.54 L1614.82 225.54 L1615.83 225.54 L1616.83 225.54 L1617.84 225.54 L1618.85 225.54 L1619.85 225.54 L1620.86 225.54 L1621.87 225.54 L1622.87 225.54 L1623.88 225.54 L1624.89 225.54 L1625.89 225.54 L1626.90 225.54 L1627.91 225.54 L1628.91 225.54 L1629.92 225.54 L1630.93 225.54 L1631.93 225.54 L1632.94 225.54 L1633.95 225.54 L1634.95 225.54 L1635.96 225.54 L1636.97 225.54 L1637.97 225.54 L1638.98 225.54 L1639.99 225.54 L1640.99 225.54 L1642.00 225.54 L1643.01 225.54 L1644.01 225.54 L1645.02 225.54 L1646.03 225.54 L1647.03 225.54 L1648.04 225.54 L1649.05 225.54 L1650.05 225.54 L1651.06 225.54 L1652.07 225.54 L1653.07 225.54 L1654.08 225.54 L1655.09 225.54 L1656.09 225.54 L1657.10 225.54 L1658.11 225.54 L1659.11 225.54 L1660.12 225.54 L1661.13 225.54 L1662.13 225.54 L1663.14 225.54 L1664.15 225.54 L1665.15 225.54 L1666.16 225.54 L1667.17 225.54 L1668.17 225.54 L1669.18 225.54 L1670.19 225.54 L1671.19 225.54 L1672.20 225.54 L1673.21 225.54 L1674.21 225.54 L1675.22 225.54 L1676.23 225.54 L1677.23 225.54 L1678.24 225.54 L1679.25 225.54 L1680.25 225.54 L1681.26 225.54 L1682.27 225.54 L1683.27 225.54 L1684.28 225.54 L1685.29 225.54 L1686.29 225.54 L1687.30 225.54 L1688.31 225.54 L1689.31 225.54 L1690.32 225.54 L1691.33 225.54 L1692.33 225.54 L1693.34 225.54 L1694.35 225.54 L1695.35 225.54 L1696.36 225.54 L1697.37 225.54 L1698.37 225.54 L1699.38 225.54 L1700.39 225.54 L1701.39 225.54 L1702.40 225.54 L1703.41 225.54 L1704.41 225.54 L1705.42 225.54 L1706.43 225.54 L1707.43 225.54 L1708.44 225.54 L1709.45 225.54 L1710.45 225.54 L1711.46 225.54 L1712.47 225.54 L1713.47 225.54 L1714.48 225.54 L1715.49 225.54 L1716.49 225.54 L1717.50 225.54" stroke="#00ff00" stroke-width="3.45" stroke-dasharray="3.6 7.528" stroke-dashoffset="0.27"/>
</g>
<text transform="translate(0 236.00) scale(1 1.050)" font-family="'Liberation Sans', sans-serif" font-size="47.00" fill="#262626" stroke="#262626" stroke-width="0.20"><tspan x="109.09" y="2.00" font-size="50.00">-</tspan><tspan x="124.74" y="0">2</tspan><tspan x="150.58" y="0">0</tspan><tspan x="178.67" y="0">0</tspan></text>
<text transform="translate(0 406.00) scale(1 1.050)" font-family="'Liberation Sans', sans-serif" font-size="47.00" fill="#262626" stroke="#262626" stroke-width="0.20"><tspan x="109.09" y="2.00" font-size="50.00">-</tspan><tspan x="124.89" y="0">4</tspan><tspan x="150.58" y="0">0</tspan><tspan x="178.67" y="0">0</tspan></text>
<text transform="translate(0 576.00) scale(1 1.050)" font-family="'Liberation Sans', sans-serif" font-size="47.00" fill="#262626" stroke="#262626" stroke-width="0.20"><tspan x="109.09" y="2.00" font-size="50.00">-</tspan><tspan x="124.86" y="0">6</tspan><tspan x="150.58" y="0">0</tspan><tspan x="178.67" y="0">0</tspan></text>
<text transform="translate(0 748.00) scale(1 1.050)" font-family="'Liberation Sans', sans-serif" font-size="47.00" fill="#262626" stroke="#262626" stroke-width="0.20"><tspan x="109.09" y="2.00" font-size="50.00">-</tspan><tspan x="125.41" y="0">8</tspan><tspan x="150.58" y="0">0</tspan><tspan x="178.67" y="0">0</tspan></text>
<text transform="translate(0 918.00) scale(1 1.050)" font-family="'Liberation Sans', sans-serif" font-size="47.00" fill="#262626" stroke="#262626" stroke-width="0.20"><tspan x="86.11" y="2.00" font-size="50.00">-</tspan><tspan x="103.89" y="0">1</tspan><tspan x="127.55" y="0">0</tspan><tspan x="155.53" y="0">0</tspan><tspan x="180.81" y="0">0</tspan></text>
<text transform="translate(0 1088.00) scale(1 1.050)" font-family="'Liberation Sans', sans-serif" font-size="47.00" fill="#262626" stroke="#262626" stroke-width="0.20"><tspan x="86.11" y="2.00" font-size="50.00">-</tspan><tspan x="103.89" y="0">1</tspan><tspan x="126.59" y="0">2</tspan><tspan x="155.53" y="0">0</tspan><tspan x="180.81" y="0">0</tspan></text>
<text transform="translate(0 1258.00) scale(1 1.050)" font-family="'Liberation Sans', sans-serif" font-size="47.00" fill="#262626" stroke="#262626" stroke-width="0.20"><tspan x="86.11" y="2.00" font-size="50.00">-</tspan><tspan x="103.89" y="0">1</tspan><tspan x="126.91" y="0">4</tspan><tspan x="155.53" y="0">0</tspan><tspan x="180.81" y="0">0</tspan></text>
<text transform="translate(0 66.00) scale(1 1.050)" font-family="'Liberation Sans', sans-serif" font-size="47.00" fill="#262626" stroke="#262626" stroke-width="0.20"><tspan x="171.48" y="0">0</tspan></text>
<text transform="translate(0 1305.00) scale(1 1.050)" font-family="'Liberation Sans', sans-serif" font-size="47.00" fill="#262626" stroke="#262626" stroke-width="0.20"><tspan x="204.51" y="0">0</tspan></text>
<text transform="translate(0 1305.00) scale(1 1.050)" font-family="'Liberation Sans', sans-serif" font-size="47.00" fill="#262626" stroke="#262626" stroke-width="0.20"><tspan x="457.43" y="0">5</tspan></text>
<text transform="translate(0 1305.00) scale(1 1.050)" font-family="'Liberation Sans', sans-serif" font-size="47.00" fill="#262626" stroke="#262626" stroke-width="0.20"><tspan x="699.96" y="0">1</tspan><tspan x="723.56" y="0">0</tspan></text>
<text transform="translate(0 1305.00) scale(1 1.050)" font-family="'Liberation Sans', sans-serif" font-size="47.00" fill="#262626" stroke="#262626" stroke-width="0.20"><tspan x="952.99" y="0">1</tspan><tspan x="976.41" y="0">5</tspan></text>
<text transform="translate(0 1305.00) scale(1 1.050)" font-family="'Liberation Sans', sans-serif" font-size="47.00" fill="#262626" stroke="#262626" stroke-width="0.20"><tspan x="1201.37" y="0">2</tspan><tspan x="1227.66" y="0">0</tspan></text>
<text transform="translate(0 1305.00) scale(1 1.050)" font-family="'Liberation Sans', sans-serif" font-size="47.00" fill="#262626" stroke="#262626" stroke-width="0.20"><tspan x="1454.46" y="0">2</tspan><tspan x="1480.63" y="0">5</tspan></text>
<text transform="translate(0 1305.00) scale(1 1.050)" font-family="'Liberation Sans', sans-serif" font-size="47.00" fill="#262626" stroke="#262626" stroke-width="0.20"><tspan x="1705.58" y="0">3</tspan><tspan x="1730.62" y="0">0</tspan></text>
<text transform="translate(0 1370.3)" x="911.10 939.86 955.42 994.24 1016.44 1030.37 1047.56 1065.96" y="0" font-family="'Liberation Serif', serif" font-size="50.0" fill="#000">Time (s)</text>
<text transform="translate(67.4 701.0) rotate(-90)" x="-0.17 30.75 57.14 79.27 96.53 121.04 146.04 160.53 176.07 196.07" y="0" font-family="'Liberation Serif', serif" font-size="50.0" fill="#000">Energy (J)</text>
<rect x="1350.5" y="945.0" width="283.70" height="186.30" fill="#fff" stroke="#262626" stroke-width="3.3"/>
<g fill="none" stroke-linecap="round" stroke-width="3.8">
<line x1="1365" y1="979.9" x2="1504.2" y2="979.9" stroke="#000"/>
<line x1="1365" y1="1038.0" x2="1504.2" y2="1038.0" stroke="#f00"/>
</g>
<line x1="1363.8" y1="1095.6" x2="1503" y2="1095.6" stroke="#0f0" stroke-width="3.6" stroke-dasharray="4 7.1" fill="none"/>
<text transform="translate(0 1000.80) scale(1 1.010)" font-family="'Liberation Sans', sans-serif" font-size="44.00" fill="#000"><tspan x="1542.64" y="0">H</tspan><tspan x="1573.36" y="-2.10" font-size="39.60" stroke="#000" stroke-width="1">=</tspan><tspan x="1597.71" y="0">5</tspan></text>
<text transform="translate(0 1059.70) scale(1 1.010)" font-family="'Liberation Sans', sans-serif" font-size="44.00" fill="#000"><tspan x="1531.59" y="0">H</tspan><tspan x="1562.49" y="-2.10" font-size="39.60" stroke="#000" stroke-width="1">=</tspan><tspan x="1586.71" y="0">1</tspan><tspan x="1608.85" y="0">0</tspan></text>
<text transform="translate(0 1114.70) scale(1 1.010)" font-family="'Liberation Sans', sans-serif" font-size="44.00" fill="#000"><tspan x="1542.64" y="0">H</tspan><tspan x="1573.36" y="-2.10" font-size="39.60" stroke="#000" stroke-width="1">=</tspan><tspan x="1597.79" y="0">3</tspan></text>
</svg>
</body></html>
